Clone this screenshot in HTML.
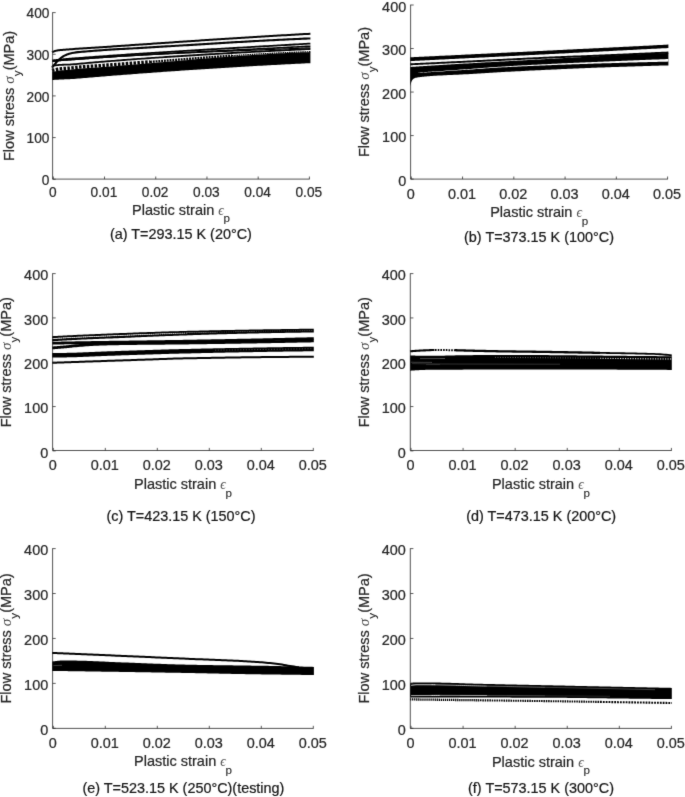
<!DOCTYPE html>
<html><head><meta charset="utf-8"><title>Flow stress vs plastic strain</title>
<style>
html,body{margin:0;padding:0;background:#fff;}
body{width:685px;height:797px;overflow:hidden;font-family:"Liberation Sans", sans-serif;}
svg{display:block;font-family:"Liberation Sans", sans-serif;will-change:transform;transform:translateZ(0);}
</style></head>
<body>
<svg width="685" height="797" viewBox="0 0 685 797">
<defs><filter id="soft" x="0" y="0" width="685" height="797" filterUnits="userSpaceOnUse" color-interpolation-filters="sRGB"><feConvolveMatrix order="3" kernelMatrix="0.015 0.07 0.015 0.07 0.66 0.07 0.015 0.07 0.015" edgeMode="duplicate" preserveAlpha="true"/></filter></defs>
<rect width="685" height="797" fill="#fff"/>
<g filter="url(#soft)">
<rect width="685" height="797" fill="#fff"/>
<g id="cv-a">
<path d="M52.0 72.10L52.5 71.97L53.0 71.85L53.5 71.73L54.0 71.62L54.5 71.51L55.0 71.40L55.5 71.29L56.0 71.18L56.5 71.08L57.0 70.98L57.5 70.89L58.0 70.80L58.5 70.71L59.0 70.64L59.5 70.57L60.0 70.51L60.5 70.45L61.0 70.40L61.5 70.35L62.0 70.30L62.5 70.26L63.0 70.22L63.5 70.18L64.0 70.14L64.5 70.11L65.0 70.07L65.5 70.04L66.0 70.00L66.5 69.97L67.0 69.93L67.5 69.90L68.0 69.86L68.5 69.82L69.0 69.78L69.5 69.74L70.0 69.70L70.5 69.65L71.0 69.60L71.5 69.55L72.0 69.50L74.0 69.27L76.0 69.04L78.0 68.82L80.0 68.63L82.0 68.47L84.0 68.32L86.0 68.17L88.0 68.04L90.0 67.90L92.0 67.77L94.0 67.64L96.0 67.52L98.0 67.39L100.0 67.25L102.0 67.11L104.0 66.96L106.0 66.80L108.0 66.64L110.0 66.49L112.0 66.33L114.0 66.17L116.0 66.01L118.0 65.85L120.0 65.69L122.0 65.53L124.0 65.37L126.0 65.21L128.0 65.04L130.0 64.88L132.0 64.71L134.0 64.55L136.0 64.38L138.0 64.21L140.0 64.04L142.0 63.88L144.0 63.71L146.0 63.54L148.0 63.37L150.0 63.20L152.0 63.03L154.0 62.86L156.0 62.69L158.0 62.52L160.0 62.35L162.0 62.17L164.0 62.00L166.0 61.83L168.0 61.66L170.0 61.49L172.0 61.32L174.0 61.15L176.0 60.98L178.0 60.81L180.0 60.64L182.0 60.47L184.0 60.30L186.0 60.13L188.0 59.96L190.0 59.79L192.0 59.62L194.0 59.46L196.0 59.29L198.0 59.12L200.0 58.96L202.0 58.79L204.0 58.63L206.0 58.47L208.0 58.30L210.0 58.14L212.0 57.98L214.0 57.82L216.0 57.66L218.0 57.51L220.0 57.35L222.0 57.19L224.0 57.04L226.0 56.89L228.0 56.73L230.0 56.58L232.0 56.43L234.0 56.29L236.0 56.14L238.0 56.00L240.0 55.85L242.0 55.71L244.0 55.57L246.0 55.43L248.0 55.29L250.0 55.16L252.0 55.02L254.0 54.89L256.0 54.76L258.0 54.63L260.0 54.50L262.0 54.38L264.0 54.26L266.0 54.14L268.0 54.02L270.0 53.90L272.0 53.79L274.0 53.67L276.0 53.56L278.0 53.45L280.0 53.35L282.0 53.25L284.0 53.14L286.0 53.05L288.0 52.95L290.0 52.86L292.0 52.76L294.0 52.68L296.0 52.59L298.0 52.51L300.0 52.42L302.0 52.35L304.0 52.27L306.0 52.20L308.0 52.13L310.0 52.06L310.4 52.05L310.4 63.15L310.0 63.17L308.0 63.26L306.0 63.36L304.0 63.46L302.0 63.56L300.0 63.65L298.0 63.75L296.0 63.85L294.0 63.95L292.0 64.06L290.0 64.16L288.0 64.26L286.0 64.36L284.0 64.47L282.0 64.57L280.0 64.68L278.0 64.78L276.0 64.89L274.0 65.00L272.0 65.10L270.0 65.21L268.0 65.32L266.0 65.43L264.0 65.54L262.0 65.65L260.0 65.76L258.0 65.87L256.0 65.99L254.0 66.10L252.0 66.21L250.0 66.33L248.0 66.44L246.0 66.56L244.0 66.68L242.0 66.79L240.0 66.91L238.0 67.03L236.0 67.15L234.0 67.27L232.0 67.39L230.0 67.51L228.0 67.63L226.0 67.75L224.0 67.88L222.0 68.00L220.0 68.13L218.0 68.25L216.0 68.38L214.0 68.50L212.0 68.63L210.0 68.76L208.0 68.88L206.0 69.01L204.0 69.14L202.0 69.27L200.0 69.40L198.0 69.53L196.0 69.67L194.0 69.80L192.0 69.93L190.0 70.07L188.0 70.20L186.0 70.33L184.0 70.47L182.0 70.61L180.0 70.74L178.0 70.88L176.0 71.02L174.0 71.16L172.0 71.30L170.0 71.44L168.0 71.58L166.0 71.72L164.0 71.86L162.0 72.01L160.0 72.15L158.0 72.29L156.0 72.44L154.0 72.58L152.0 72.73L150.0 72.88L148.0 73.02L146.0 73.17L144.0 73.32L142.0 73.47L140.0 73.62L138.0 73.77L136.0 73.92L134.0 74.07L132.0 74.22L130.0 74.38L128.0 74.53L126.0 74.69L124.0 74.84L122.0 75.00L120.0 75.15L118.0 75.31L116.0 75.47L114.0 75.62L112.0 75.78L110.0 75.94L108.0 76.10L106.0 76.26L104.0 76.42L102.0 76.59L100.0 76.75L98.0 76.91L96.0 77.08L94.0 77.24L92.0 77.40L90.0 77.57L88.0 77.74L86.0 77.92L84.0 78.10L82.0 78.27L80.0 78.43L78.0 78.59L76.0 78.74L74.0 78.89L72.0 79.02L71.5 79.05L71.0 79.08L70.5 79.11L70.0 79.14L69.5 79.16L69.0 79.19L68.5 79.21L68.0 79.23L67.5 79.25L67.0 79.27L66.5 79.29L66.0 79.31L65.5 79.33L65.0 79.35L64.5 79.37L64.0 79.39L63.5 79.41L63.0 79.43L62.5 79.45L62.0 79.47L61.5 79.49L61.0 79.51L60.5 79.54L60.0 79.56L59.5 79.58L59.0 79.61L58.5 79.63L58.0 79.66L57.5 79.69L57.0 79.71L56.5 79.74L56.0 79.77L55.5 79.79L55.0 79.82L54.5 79.85L54.0 79.88L53.5 79.91L53.0 79.94L52.5 79.97L52.0 80.00Z" fill="#000" stroke="none"/>
<path d="M52.0 70.50L52.5 70.37L53.0 70.25L53.5 70.13L54.0 70.02L54.5 69.91L55.0 69.80L55.5 69.69L56.0 69.58L56.5 69.48L57.0 69.38L57.5 69.29L58.0 69.20L58.5 69.12L59.0 69.04L59.5 68.97L60.0 68.91L60.5 68.85L61.0 68.80L61.5 68.75L62.0 68.70L62.5 68.66L63.0 68.62L63.5 68.58L64.0 68.54L64.5 68.50L65.0 68.47L65.5 68.43L66.0 68.40L66.5 68.37L67.0 68.33L67.5 68.29L68.0 68.26L68.5 68.22L69.0 68.18L69.5 68.14L70.0 68.09L70.5 68.04L71.0 67.99L71.5 67.94L72.0 67.89L74.0 67.66L76.0 67.43L78.0 67.21L80.0 67.01L82.0 66.85L84.0 66.70L86.0 66.56L88.0 66.43L90.0 66.29L92.0 66.16L94.0 66.04L96.0 65.92L98.0 65.80L100.0 65.67L102.0 65.53L104.0 65.38L106.0 65.23L108.0 65.08L110.0 64.94L112.0 64.79L114.0 64.64L116.0 64.49L118.0 64.34L120.0 64.18L122.0 64.03L124.0 63.88L126.0 63.73L128.0 63.57L130.0 63.42L132.0 63.27L134.0 63.11L136.0 62.96L138.0 62.80L140.0 62.64L142.0 62.49L144.0 62.33L146.0 62.18L148.0 62.02L150.0 61.86" fill="none" stroke="#000" stroke-width="3.4242898363919045" stroke-dasharray="2.5 1.4" stroke-linecap="butt" stroke-linejoin="round"/>
<path d="M150.0 61.86L150.5 61.82L151.0 61.78L151.5 61.74L152.0 61.71L152.5 61.67L153.0 61.63L153.5 61.59L154.0 61.55L154.5 61.51L155.0 61.47L155.5 61.43L156.0 61.39L156.5 61.35L157.0 61.31L157.5 61.27L158.0 61.23L158.5 61.20L159.0 61.16L159.5 61.12L160.0 61.08L160.5 61.04L161.0 61.00L161.5 60.96L162.0 60.92L162.5 60.88L163.0 60.84L163.5 60.80L164.0 60.76L164.5 60.73L165.0 60.69L165.5 60.65L166.0 60.61L166.5 60.57L167.0 60.53L167.5 60.49L168.0 60.45L168.5 60.41L169.0 60.37L169.5 60.33L170.0 60.29L172.0 60.14L174.0 59.98L176.0 59.83L178.0 59.67L180.0 59.52L182.0 59.36L184.0 59.21L186.0 59.05L188.0 58.90L190.0 58.75L192.0 58.60L194.0 58.45L196.0 58.29L198.0 58.14L200.0 57.99L202.0 57.85L204.0 57.70L206.0 57.55L208.0 57.40L210.0 57.26L212.0 57.11L214.0 56.97L216.0 56.82L218.0 56.68L220.0 56.54L222.0 56.40L224.0 56.26L226.0 56.12L228.0 55.99L230.0 55.85L232.0 55.72" fill="none" stroke="#000" stroke-width="2.3644514963083867" stroke-dasharray="1.9 0.9" stroke-linecap="butt" stroke-linejoin="round"/>
<path d="M232.0 55.72L232.5 55.68L233.0 55.65L233.5 55.62L234.0 55.58L234.5 55.55L235.0 55.52L235.5 55.48L236.0 55.45L236.5 55.42L237.0 55.38L237.5 55.35L238.0 55.32L238.5 55.29L239.0 55.25L239.5 55.22L240.0 55.19L240.5 55.16L241.0 55.12L241.5 55.09L242.0 55.06L242.5 55.03L243.0 55.00L243.5 54.97L244.0 54.93L244.5 54.90L245.0 54.87L245.5 54.84L246.0 54.81L246.5 54.78L247.0 54.75L247.5 54.71L248.0 54.68L248.5 54.65L249.0 54.62L249.5 54.59L250.0 54.56L250.5 54.53L251.0 54.50L251.5 54.47L252.0 54.44L254.0 54.32L256.0 54.20L258.0 54.09L260.0 53.97L262.0 53.86L264.0 53.75L266.0 53.64L268.0 53.53L270.0 53.42L272.0 53.32L274.0 53.21L276.0 53.11L278.0 53.01L280.0 52.92L282.0 52.82L284.0 52.73L286.0 52.64L288.0 52.55L290.0 52.46L292.0 52.38L294.0 52.30L296.0 52.22L298.0 52.14L300.0 52.06L302.0 51.99L304.0 51.92L306.0 51.85L308.0 51.78L310.0 51.72L310.4 51.71" fill="none" stroke="#000" stroke-width="1.280089051288066" stroke-dasharray="1.5 0.7" stroke-linecap="butt" stroke-linejoin="round"/>
<path d="M52.0 65.90L52.5 65.80L53.0 65.70L53.5 65.62L54.0 65.55L54.5 65.47L55.0 65.40L55.5 65.33L56.0 65.26L56.5 65.20L57.0 65.14L57.5 65.08L58.0 65.03L58.5 64.98L59.0 64.94L59.5 64.90L60.0 64.87L60.5 64.84L61.0 64.82L61.5 64.80L62.0 64.78L62.5 64.76L63.0 64.75L63.5 64.73L64.0 64.72L64.5 64.70L65.0 64.69L65.5 64.68L66.0 64.67L66.5 64.65L67.0 64.64L67.5 64.63L68.0 64.61L68.5 64.59L69.0 64.57L69.5 64.55L70.0 64.53L70.5 64.50L71.0 64.47L71.5 64.44L72.0 64.40L74.0 64.24L76.0 64.05L78.0 63.86L80.0 63.67L82.0 63.49L84.0 63.31L86.0 63.12L88.0 62.94L90.0 62.76L92.0 62.59L94.0 62.42L96.0 62.25L98.0 62.08L100.0 61.92L102.0 61.75L104.0 61.59L106.0 61.43L108.0 61.27L110.0 61.11L112.0 60.95L114.0 60.79L116.0 60.63L118.0 60.48L120.0 60.32L122.0 60.17L124.0 60.01L126.0 59.86L128.0 59.71L130.0 59.56L132.0 59.41L134.0 59.26L136.0 59.12L138.0 58.97L140.0 58.83L142.0 58.68L144.0 58.54L146.0 58.40L148.0 58.25L150.0 58.11L152.0 57.97L154.0 57.84L156.0 57.70L158.0 57.56L160.0 57.42L162.0 57.29L164.0 57.15L166.0 57.02L168.0 56.89L170.0 56.75L172.0 56.62L174.0 56.49L176.0 56.36L178.0 56.23L180.0 56.11L182.0 55.98L184.0 55.85L186.0 55.73L188.0 55.60L190.0 55.48L192.0 55.35L194.0 55.23L196.0 55.11L198.0 54.99L200.0 54.87L202.0 54.74L204.0 54.63L206.0 54.51L208.0 54.39L210.0 54.27L212.0 54.15L214.0 54.04L216.0 53.92L218.0 53.81L220.0 53.69L222.0 53.58L224.0 53.46L226.0 53.35L228.0 53.24L230.0 53.13L232.0 53.02L234.0 52.91L236.0 52.80L238.0 52.69L240.0 52.58L242.0 52.47L244.0 52.36L246.0 52.25L248.0 52.15L250.0 52.04L252.0 51.93L254.0 51.83L256.0 51.72L258.0 51.62L260.0 51.51L262.0 51.41L264.0 51.31L266.0 51.20L268.0 51.10L270.0 51.00L272.0 50.90L274.0 50.80L276.0 50.69L278.0 50.59L280.0 50.49L282.0 50.39L284.0 50.29L286.0 50.19L288.0 50.09L290.0 50.00L292.0 49.90L294.0 49.80L296.0 49.70L298.0 49.60L300.0 49.51L302.0 49.41L304.0 49.31L306.0 49.22L308.0 49.12L310.0 49.02L310.4 49.00" fill="none" stroke="#000" stroke-width="1.8" stroke-linecap="butt" stroke-linejoin="round"/>
<path d="M52.0 61.40L52.5 61.35L53.0 61.30L53.5 61.25L54.0 61.20L54.5 61.15L55.0 61.10L55.5 61.05L56.0 61.00L56.5 60.95L57.0 60.90L57.5 60.85L58.0 60.80L58.5 60.76L59.0 60.71L59.5 60.67L60.0 60.62L60.5 60.58L61.0 60.54L61.5 60.50L62.0 60.46L62.5 60.42L63.0 60.38L63.5 60.35L64.0 60.31L64.5 60.27L65.0 60.24L65.5 60.20L66.0 60.17L66.5 60.13L67.0 60.10L67.5 60.06L68.0 60.03L68.5 59.99L69.0 59.96L69.5 59.92L70.0 59.89L70.5 59.85L71.0 59.82L71.5 59.78L72.0 59.75L74.0 59.62L76.0 59.49L78.0 59.35L80.0 59.22L82.0 59.07L84.0 58.91L86.0 58.75L88.0 58.59L90.0 58.44L92.0 58.29L94.0 58.14L96.0 58.00L98.0 57.86L100.0 57.72L102.0 57.58L104.0 57.44L106.0 57.30L108.0 57.17L110.0 57.04L112.0 56.91L114.0 56.78L116.0 56.65L118.0 56.52L120.0 56.40L122.0 56.27L124.0 56.15L126.0 56.03L128.0 55.91L130.0 55.80L132.0 55.68L134.0 55.56L136.0 55.45L138.0 55.34L140.0 55.23L142.0 55.12L144.0 55.01L146.0 54.90L148.0 54.79L150.0 54.69L152.0 54.58L154.0 54.48L156.0 54.38L158.0 54.28L160.0 54.18L162.0 54.08L164.0 53.98L166.0 53.88L168.0 53.79L170.0 53.69L172.0 53.59L174.0 53.50L176.0 53.41L178.0 53.32L180.0 53.22L182.0 53.13L184.0 53.04L186.0 52.95L188.0 52.87L190.0 52.78L192.0 52.69L194.0 52.60L196.0 52.52L198.0 52.43L200.0 52.35L202.0 52.26L204.0 52.18L206.0 52.09L208.0 52.01L210.0 51.93L212.0 51.85L214.0 51.76L216.0 51.68L218.0 51.60L220.0 51.52L222.0 51.44L224.0 51.36L226.0 51.28L228.0 51.20L230.0 51.12L232.0 51.04L234.0 50.96L236.0 50.88L238.0 50.80L240.0 50.72L242.0 50.64L244.0 50.56L246.0 50.48L248.0 50.40L250.0 50.32L252.0 50.24L254.0 50.16L256.0 50.08L258.0 50.00L260.0 49.92L262.0 49.84L264.0 49.76L266.0 49.68L268.0 49.59L270.0 49.51L272.0 49.43L274.0 49.35L276.0 49.26L278.0 49.18L280.0 49.10L282.0 49.01L284.0 48.93L286.0 48.84L288.0 48.76L290.0 48.67L292.0 48.59L294.0 48.50L296.0 48.41L298.0 48.32L300.0 48.23L302.0 48.14L304.0 48.05L306.0 47.96L308.0 47.87L310.0 47.77L310.4 47.76" fill="none" stroke="#000" stroke-width="1.2" stroke-linecap="butt" stroke-linejoin="round"/>
<path d="M52.0 61.20L52.5 61.15L53.0 61.09L53.5 61.04L54.0 60.99L54.5 60.94L55.0 60.89L55.5 60.84L56.0 60.78L56.5 60.73L57.0 60.68L57.5 60.63L58.0 60.58L58.5 60.54L59.0 60.49L59.5 60.44L60.0 60.40L60.5 60.35L61.0 60.31L61.5 60.27L62.0 60.23L62.5 60.19L63.0 60.15L63.5 60.11L64.0 60.07L64.5 60.03L65.0 59.99L65.5 59.95L66.0 59.91L66.5 59.88L67.0 59.84L67.5 59.80L68.0 59.77L68.5 59.73L69.0 59.69L69.5 59.66L70.0 59.62L70.5 59.59L71.0 59.55L71.5 59.52L72.0 59.49L74.0 59.36L76.0 59.23L78.0 59.10L80.0 58.97L82.0 58.82L84.0 58.67L86.0 58.52L88.0 58.37L90.0 58.22L92.0 58.07L94.0 57.93L96.0 57.79L98.0 57.65L100.0 57.51L102.0 57.37L104.0 57.24L106.0 57.10L108.0 56.97L110.0 56.84L112.0 56.70L114.0 56.57L116.0 56.44L118.0 56.31L120.0 56.19L122.0 56.06L124.0 55.94L126.0 55.81L128.0 55.69L130.0 55.57L132.0 55.44L134.0 55.32L136.0 55.20L138.0 55.09L140.0 54.97L142.0 54.85L144.0 54.74L146.0 54.62L148.0 54.51L150.0 54.39L152.0 54.28L154.0 54.17L156.0 54.06L158.0 53.95L160.0 53.84L162.0 53.73L164.0 53.62L166.0 53.51L168.0 53.40L170.0 53.30L172.0 53.19L174.0 53.08L176.0 52.98L178.0 52.88L180.0 52.77L182.0 52.67L184.0 52.56L186.0 52.46L188.0 52.36L190.0 52.26L192.0 52.16L194.0 52.06L196.0 51.95L198.0 51.85L200.0 51.75L202.0 51.65L204.0 51.55L206.0 51.46L208.0 51.36L210.0 51.26L212.0 51.16L214.0 51.06L216.0 50.96L218.0 50.86L220.0 50.77L222.0 50.67L224.0 50.57L226.0 50.47L228.0 50.38L230.0 50.28L232.0 50.18L234.0 50.08L236.0 49.99L238.0 49.89L240.0 49.79L242.0 49.69L244.0 49.59L246.0 49.50L248.0 49.40L250.0 49.30L252.0 49.20L254.0 49.10L256.0 49.00L258.0 48.90L260.0 48.80L262.0 48.70L264.0 48.60L266.0 48.50L268.0 48.40L270.0 48.30L272.0 48.20L274.0 48.10L276.0 48.00L278.0 47.89L280.0 47.79L282.0 47.69L284.0 47.58L286.0 47.48L288.0 47.37L290.0 47.27L292.0 47.16L294.0 47.06L296.0 46.95L298.0 46.84L300.0 46.73L302.0 46.62L304.0 46.51L306.0 46.40L308.0 46.29L310.0 46.18L310.4 46.16" fill="none" stroke="#000" stroke-width="1.6" stroke-linecap="butt" stroke-linejoin="round"/>
<path d="M52.0 60.50L52.5 60.44L53.0 60.38L53.5 60.32L54.0 60.26L54.5 60.20L55.0 60.14L55.5 60.08L56.0 60.02L56.5 59.96L57.0 59.90L57.5 59.85L58.0 59.79L58.5 59.74L59.0 59.68L59.5 59.63L60.0 59.58L60.5 59.52L61.0 59.47L61.5 59.42L62.0 59.37L62.5 59.32L63.0 59.28L63.5 59.23L64.0 59.18L64.5 59.13L65.0 59.09L65.5 59.04L66.0 59.00L66.5 58.95L67.0 58.91L67.5 58.86L68.0 58.82L68.5 58.78L69.0 58.74L69.5 58.70L70.0 58.66L70.5 58.62L71.0 58.58L71.5 58.54L72.0 58.51L74.0 58.37L76.0 58.24L78.0 58.11L80.0 57.97L82.0 57.82L84.0 57.67L86.0 57.52L88.0 57.37L90.0 57.22L92.0 57.07L94.0 56.92L96.0 56.77L98.0 56.62L100.0 56.48L102.0 56.33L104.0 56.19L106.0 56.04L108.0 55.90L110.0 55.76L112.0 55.62L114.0 55.48L116.0 55.34L118.0 55.20L120.0 55.06L122.0 54.92L124.0 54.78L126.0 54.65L128.0 54.51L130.0 54.37L132.0 54.24L134.0 54.11L136.0 53.97L138.0 53.84L140.0 53.71L142.0 53.58L144.0 53.45L146.0 53.32L148.0 53.19L150.0 53.06L152.0 52.93L154.0 52.80L156.0 52.67L158.0 52.55L160.0 52.42L162.0 52.29L164.0 52.17L166.0 52.04L168.0 51.92L170.0 51.79L172.0 51.67L174.0 51.55L176.0 51.42L178.0 51.30L180.0 51.18L182.0 51.06L184.0 50.94L186.0 50.81L188.0 50.69L190.0 50.57L192.0 50.45L194.0 50.33L196.0 50.21L198.0 50.10L200.0 49.98L202.0 49.86L204.0 49.74L206.0 49.62L208.0 49.50L210.0 49.39L212.0 49.27L214.0 49.15L216.0 49.04L218.0 48.92L220.0 48.80L222.0 48.69L224.0 48.57L226.0 48.45L228.0 48.34L230.0 48.22L232.0 48.11L234.0 47.99L236.0 47.88L238.0 47.76L240.0 47.65L242.0 47.53L244.0 47.42L246.0 47.30L248.0 47.19L250.0 47.07L252.0 46.95L254.0 46.84L256.0 46.72L258.0 46.61L260.0 46.49L262.0 46.38L264.0 46.26L266.0 46.15L268.0 46.03L270.0 45.92L272.0 45.80L274.0 45.69L276.0 45.57L278.0 45.46L280.0 45.34L282.0 45.22L284.0 45.11L286.0 44.99L288.0 44.87L290.0 44.76L292.0 44.64L294.0 44.52L296.0 44.41L298.0 44.29L300.0 44.17L302.0 44.05L304.0 43.93L306.0 43.81L308.0 43.70L310.0 43.58L310.4 43.55" fill="none" stroke="#000" stroke-width="1.8" stroke-linecap="butt" stroke-linejoin="round"/>
<path d="M52.0 67.60L52.5 66.98L53.0 66.37L53.5 65.76L54.0 65.15L54.5 64.55L55.0 63.95L55.5 63.35L56.0 62.75L56.5 62.17L57.0 61.63L57.5 61.11L58.0 60.62L58.5 60.13L59.0 59.65L59.5 59.17L60.0 58.71L60.5 58.28L61.0 57.88L61.5 57.50L62.0 57.15L62.5 56.82L63.0 56.50L63.5 56.20L64.0 55.91L64.5 55.64L65.0 55.39L65.5 55.16L66.0 54.95L66.5 54.74L67.0 54.54L67.5 54.34L68.0 54.16L68.5 53.98L69.0 53.82L69.5 53.66L70.0 53.53L70.5 53.40L71.0 53.27L71.5 53.15L72.0 53.04L74.0 52.67L76.0 52.39L78.0 52.16L80.0 51.95L82.0 51.77L84.0 51.59L86.0 51.43L88.0 51.28L90.0 51.12L92.0 50.97L94.0 50.81L96.0 50.65L98.0 50.50L100.0 50.34L102.0 50.19L104.0 50.04L106.0 49.89L108.0 49.75L110.0 49.62L112.0 49.50L114.0 49.39L116.0 49.28L118.0 49.17L120.0 49.07L122.0 48.96L124.0 48.86L126.0 48.75L128.0 48.65L130.0 48.54L132.0 48.43L134.0 48.32L136.0 48.20L138.0 48.09L140.0 47.97L142.0 47.85L144.0 47.74L146.0 47.62L148.0 47.50L150.0 47.38L152.0 47.26L154.0 47.15L156.0 47.03L158.0 46.91L160.0 46.79L162.0 46.67L164.0 46.54L166.0 46.42L168.0 46.30L170.0 46.18L172.0 46.06L174.0 45.94L176.0 45.81L178.0 45.69L180.0 45.57L182.0 45.45L184.0 45.32L186.0 45.20L188.0 45.08L190.0 44.95L192.0 44.83L194.0 44.71L196.0 44.59L198.0 44.46L200.0 44.34L202.0 44.22L204.0 44.09L206.0 43.97L208.0 43.85L210.0 43.73L212.0 43.61L214.0 43.49L216.0 43.36L218.0 43.24L220.0 43.12L222.0 43.00L224.0 42.88L226.0 42.76L228.0 42.65L230.0 42.53L232.0 42.41L234.0 42.29L236.0 42.17L238.0 42.06L240.0 41.94L242.0 41.83L244.0 41.71L246.0 41.60L248.0 41.49L250.0 41.37L252.0 41.26L254.0 41.15L256.0 41.04L258.0 40.93L260.0 40.82L262.0 40.71L264.0 40.61L266.0 40.50L268.0 40.39L270.0 40.29L272.0 40.19L274.0 40.08L276.0 39.98L278.0 39.88L280.0 39.78L282.0 39.68L284.0 39.58L286.0 39.49L288.0 39.39L290.0 39.30L292.0 39.21L294.0 39.11L296.0 39.02L298.0 38.93L300.0 38.85L302.0 38.76L304.0 38.67L306.0 38.59L308.0 38.51L310.0 38.43L310.4 38.41" fill="none" stroke="#000" stroke-width="2.1" stroke-linecap="butt" stroke-linejoin="round"/>
<path d="M52.0 52.20L52.5 51.97L53.0 51.76L53.5 51.57L54.0 51.38L54.5 51.21L55.0 51.05L55.5 50.90L56.0 50.74L56.5 50.61L57.0 50.51L57.5 50.43L58.0 50.35L58.5 50.29L59.0 50.23L59.5 50.17L60.0 50.12L60.5 50.08L61.0 50.03L61.5 49.98L62.0 49.94L62.5 49.89L63.0 49.85L63.5 49.81L64.0 49.77L64.5 49.73L65.0 49.69L65.5 49.65L66.0 49.61L66.5 49.58L67.0 49.54L67.5 49.51L68.0 49.47L68.5 49.43L69.0 49.39L69.5 49.36L70.0 49.32L70.5 49.27L71.0 49.23L71.5 49.19L72.0 49.14L74.0 48.97L76.0 48.82L78.0 48.68L80.0 48.55L82.0 48.42L84.0 48.29L86.0 48.17L88.0 48.05L90.0 47.94L92.0 47.82L94.0 47.71L96.0 47.59L98.0 47.46L100.0 47.33L102.0 47.20L104.0 47.07L106.0 46.93L108.0 46.79L110.0 46.65L112.0 46.51L114.0 46.36L116.0 46.22L118.0 46.08L120.0 45.94L122.0 45.81L124.0 45.67L126.0 45.53L128.0 45.39L130.0 45.26L132.0 45.12L134.0 44.98L136.0 44.84L138.0 44.70L140.0 44.57L142.0 44.43L144.0 44.29L146.0 44.15L148.0 44.01L150.0 43.88L152.0 43.74L154.0 43.60L156.0 43.47L158.0 43.33L160.0 43.19L162.0 43.06L164.0 42.92L166.0 42.78L168.0 42.65L170.0 42.51L172.0 42.38L174.0 42.24L176.0 42.10L178.0 41.97L180.0 41.83L182.0 41.70L184.0 41.56L186.0 41.43L188.0 41.30L190.0 41.16L192.0 41.03L194.0 40.89L196.0 40.76L198.0 40.63L200.0 40.50L202.0 40.36L204.0 40.23L206.0 40.10L208.0 39.97L210.0 39.84L212.0 39.71L214.0 39.58L216.0 39.45L218.0 39.32L220.0 39.19L222.0 39.06L224.0 38.93L226.0 38.80L228.0 38.67L230.0 38.54L232.0 38.41L234.0 38.29L236.0 38.16L238.0 38.03L240.0 37.91L242.0 37.78L244.0 37.66L246.0 37.53L248.0 37.41L250.0 37.28L252.0 37.16L254.0 37.04L256.0 36.92L258.0 36.79L260.0 36.67L262.0 36.55L264.0 36.43L266.0 36.31L268.0 36.19L270.0 36.07L272.0 35.95L274.0 35.83L276.0 35.72L278.0 35.60L280.0 35.48L282.0 35.37L284.0 35.25L286.0 35.13L288.0 35.02L290.0 34.91L292.0 34.79L294.0 34.68L296.0 34.57L298.0 34.46L300.0 34.34L302.0 34.23L304.0 34.12L306.0 34.01L308.0 33.91L310.0 33.80L310.4 33.78" fill="none" stroke="#000" stroke-width="2.0" stroke-linecap="butt" stroke-linejoin="round"/>
</g>
<g id="ax-a">
<path d="M52.599999999999994 12.299999999999999V179.1H309.7" fill="none" stroke="#262626" stroke-width="0.8"/>
<path d="M53.30 179.1v-2.6M104.52 179.1v-2.6M155.74 179.1v-2.6M206.96 179.1v-2.6M258.18 179.1v-2.6M309.40 179.1v-2.6M52.599999999999994 179.25h3.1M52.599999999999994 137.59h3.1M52.599999999999994 95.92h3.1M52.599999999999994 54.26h3.1M52.599999999999994 12.60h3.1" fill="none" stroke="#262626" stroke-width="0.75"/>
<g font-size="13.7" fill="#262626" stroke="#262626" stroke-width="0.22">
<text transform="translate(52.70 196.80) scale(1 1.055)" text-anchor="middle">0</text>
<text transform="translate(103.92 196.80) scale(1 1.055)" text-anchor="middle">0.01</text>
<text transform="translate(155.14 196.80) scale(1 1.055)" text-anchor="middle">0.02</text>
<text transform="translate(206.36 196.80) scale(1 1.055)" text-anchor="middle">0.03</text>
<text transform="translate(257.58 196.80) scale(1 1.055)" text-anchor="middle">0.04</text>
<text transform="translate(308.80 196.80) scale(1 1.055)" text-anchor="middle">0.05</text>
<text transform="translate(49.40 184.96) scale(1 1.055)" text-anchor="end">0</text>
<text transform="translate(49.40 143.30) scale(1 1.055)" text-anchor="end">100</text>
<text transform="translate(49.40 101.63) scale(1 1.055)" text-anchor="end">200</text>
<text transform="translate(49.40 59.97) scale(1 1.055)" text-anchor="end">300</text>
<text transform="translate(49.40 18.31) scale(1 1.055)" text-anchor="end">400</text>
</g>
<text x="181.05" y="214.50" text-anchor="middle" font-size="14.5" fill="#262626" stroke="#262626" stroke-width="0.22">Plastic strain <tspan font-family="Liberation Serif" font-style="italic" font-size="13.77" fill="#555" stroke="none">ϵ</tspan><tspan dx="-0.3" dy="7.76" font-size="11.60" stroke-width="0.1">p</tspan></text>
<text transform="translate(13.90 95.92) rotate(-90)" text-anchor="middle" font-size="14.5" fill="#262626" stroke="#262626" stroke-width="0.22">Flow stress <tspan font-family="Liberation Serif" font-style="italic" font-size="15.23" fill="#444" stroke="none">σ</tspan><tspan dy="6.96" font-size="11.60" stroke-width="0.1">y</tspan><tspan dy="-6.96">(MPa)</tspan></text>
<text x="180.9" y="239.0" text-anchor="middle" font-size="14.4" fill="#161616" stroke="#161616" stroke-width="0.22">(a) T=293.15 K (20°C)</text>
</g>
<g id="cv-b">
<path d="M410.0 57.30L410.5 57.28L411.0 57.25L411.5 57.23L412.0 57.20L412.5 57.18L413.0 57.16L413.5 57.13L414.0 57.11L414.5 57.08L415.0 57.06L415.5 57.04L416.0 57.01L416.5 56.99L417.0 56.97L417.5 56.94L418.0 56.92L418.5 56.89L419.0 56.87L419.5 56.85L420.0 56.82L420.5 56.80L421.0 56.77L421.5 56.75L422.0 56.73L422.5 56.70L423.0 56.68L423.5 56.65L424.0 56.63L424.5 56.61L425.0 56.58L425.5 56.56L426.0 56.53L426.5 56.51L427.0 56.49L427.5 56.46L428.0 56.44L428.5 56.41L429.0 56.39L429.5 56.37L430.0 56.34L432.0 56.25L434.0 56.15L436.0 56.05L438.0 55.96L440.0 55.86L442.0 55.77L444.0 55.67L446.0 55.57L448.0 55.48L450.0 55.38L452.0 55.28L454.0 55.19L456.0 55.09L458.0 54.99L460.0 54.90L462.0 54.80L464.0 54.70L466.0 54.61L468.0 54.51L470.0 54.41L472.0 54.32L474.0 54.22L476.0 54.12L478.0 54.03L480.0 53.93L482.0 53.83L484.0 53.74L486.0 53.64L488.0 53.54L490.0 53.44L492.0 53.35L494.0 53.25L496.0 53.15L498.0 53.05L500.0 52.96L502.0 52.86L504.0 52.76L506.0 52.66L508.0 52.57L510.0 52.47L512.0 52.37L514.0 52.27L516.0 52.18L518.0 52.08L520.0 51.98L522.0 51.88L524.0 51.78L526.0 51.69L528.0 51.59L530.0 51.49L532.0 51.39L534.0 51.29L536.0 51.20L538.0 51.10L540.0 51.00L542.0 50.90L544.0 50.80L546.0 50.70L548.0 50.61L550.0 50.51L552.0 50.41L554.0 50.31L556.0 50.21L558.0 50.11L560.0 50.01L562.0 49.92L564.0 49.82L566.0 49.72L568.0 49.62L570.0 49.52L572.0 49.42L574.0 49.32L576.0 49.22L578.0 49.12L580.0 49.03L582.0 48.93L584.0 48.83L586.0 48.73L588.0 48.63L590.0 48.53L592.0 48.43L594.0 48.33L596.0 48.23L598.0 48.13L600.0 48.03L602.0 47.93L604.0 47.83L606.0 47.73L608.0 47.63L610.0 47.53L612.0 47.43L614.0 47.33L616.0 47.23L618.0 47.13L620.0 47.03L622.0 46.93L624.0 46.83L626.0 46.73L628.0 46.63L630.0 46.53L632.0 46.43L634.0 46.33L636.0 46.23L638.0 46.13L640.0 46.03L642.0 45.93L644.0 45.83L646.0 45.73L648.0 45.63L650.0 45.53L652.0 45.43L654.0 45.33L656.0 45.23L658.0 45.12L660.0 45.02L662.0 44.92L664.0 44.82L666.0 44.72L668.0 44.62L668.4 44.60L668.4 48.00L668.0 48.02L666.0 48.13L664.0 48.23L662.0 48.33L660.0 48.44L658.0 48.54L656.0 48.65L654.0 48.75L652.0 48.85L650.0 48.96L648.0 49.06L646.0 49.16L644.0 49.27L642.0 49.37L640.0 49.48L638.0 49.58L636.0 49.68L634.0 49.79L632.0 49.89L630.0 49.99L628.0 50.10L626.0 50.20L624.0 50.30L622.0 50.41L620.0 50.51L618.0 50.61L616.0 50.72L614.0 50.82L612.0 50.92L610.0 51.02L608.0 51.13L606.0 51.23L604.0 51.33L602.0 51.44L600.0 51.54L598.0 51.64L596.0 51.74L594.0 51.85L592.0 51.95L590.0 52.05L588.0 52.15L586.0 52.26L584.0 52.36L582.0 52.46L580.0 52.56L578.0 52.67L576.0 52.77L574.0 52.87L572.0 52.97L570.0 53.07L568.0 53.18L566.0 53.28L564.0 53.38L562.0 53.48L560.0 53.58L558.0 53.69L556.0 53.79L554.0 53.89L552.0 53.99L550.0 54.09L548.0 54.19L546.0 54.30L544.0 54.40L542.0 54.50L540.0 54.60L538.0 54.70L536.0 54.80L534.0 54.90L532.0 55.01L530.0 55.11L528.0 55.21L526.0 55.31L524.0 55.41L522.0 55.51L520.0 55.61L518.0 55.71L516.0 55.81L514.0 55.91L512.0 56.02L510.0 56.12L508.0 56.22L506.0 56.32L504.0 56.42L502.0 56.52L500.0 56.62L498.0 56.72L496.0 56.82L494.0 56.92L492.0 57.02L490.0 57.12L488.0 57.22L486.0 57.32L484.0 57.42L482.0 57.52L480.0 57.62L478.0 57.72L476.0 57.82L474.0 57.92L472.0 58.02L470.0 58.12L468.0 58.22L466.0 58.32L464.0 58.42L462.0 58.52L460.0 58.62L458.0 58.72L456.0 58.82L454.0 58.92L452.0 59.02L450.0 59.12L448.0 59.22L446.0 59.32L444.0 59.42L442.0 59.52L440.0 59.62L438.0 59.72L436.0 59.81L434.0 59.91L432.0 60.01L430.0 60.11L429.5 60.14L429.0 60.16L428.5 60.19L428.0 60.21L427.5 60.24L427.0 60.26L426.5 60.29L426.0 60.31L425.5 60.33L425.0 60.36L424.5 60.38L424.0 60.41L423.5 60.43L423.0 60.46L422.5 60.48L422.0 60.51L421.5 60.53L421.0 60.56L420.5 60.58L420.0 60.61L419.5 60.63L419.0 60.66L418.5 60.68L418.0 60.71L417.5 60.73L417.0 60.75L416.5 60.78L416.0 60.80L415.5 60.83L415.0 60.85L414.5 60.88L414.0 60.90L413.5 60.93L413.0 60.95L412.5 60.98L412.0 61.00L411.5 61.03L411.0 61.05L410.5 61.08L410.0 61.10Z" fill="#000" stroke="none"/>
<path d="M410.0 64.30L410.5 64.28L411.0 64.25L411.5 64.23L412.0 64.21L412.5 64.18L413.0 64.16L413.5 64.14L414.0 64.11L414.5 64.09L415.0 64.07L415.5 64.04L416.0 64.02L416.5 64.00L417.0 63.97L417.5 63.95L418.0 63.93L418.5 63.90L419.0 63.88L419.5 63.86L420.0 63.83L420.5 63.81L421.0 63.79L421.5 63.76L422.0 63.74L422.5 63.72L423.0 63.69L423.5 63.67L424.0 63.65L424.5 63.62L425.0 63.60L425.5 63.58L426.0 63.55L426.5 63.53L427.0 63.51L427.5 63.48L428.0 63.46L428.5 63.44L429.0 63.41L429.5 63.39L430.0 63.37L432.0 63.27L434.0 63.18L436.0 63.08L438.0 62.99L440.0 62.89L442.0 62.80L444.0 62.70L446.0 62.61L448.0 62.51L450.0 62.42L452.0 62.32L454.0 62.23L456.0 62.13L458.0 62.04L460.0 61.94L462.0 61.84L464.0 61.75L466.0 61.65L468.0 61.55L470.0 61.46L472.0 61.36L474.0 61.26L476.0 61.16L478.0 61.06L480.0 60.96L482.0 60.86L484.0 60.76L486.0 60.66L488.0 60.56L490.0 60.45L492.0 60.35L494.0 60.25L496.0 60.15L498.0 60.05L500.0 59.95L502.0 59.84L504.0 59.74L506.0 59.64L508.0 59.54L510.0 59.44L512.0 59.34L514.0 59.24L516.0 59.14L518.0 59.04L520.0 58.94L522.0 58.85L524.0 58.75L526.0 58.65L528.0 58.56L530.0 58.46L532.0 58.37L534.0 58.27L536.0 58.18L538.0 58.09L540.0 58.00L542.0 57.91L544.0 57.82L546.0 57.73L548.0 57.65L550.0 57.56L552.0 57.48L554.0 57.39L556.0 57.31L558.0 57.22L560.0 57.14L562.0 57.06L564.0 56.98L566.0 56.90L568.0 56.81L570.0 56.73L572.0 56.65L574.0 56.57L576.0 56.49L578.0 56.41L580.0 56.33L582.0 56.25L584.0 56.17L586.0 56.09L588.0 56.01L590.0 55.93L592.0 55.85L594.0 55.77L596.0 55.69L598.0 55.61L600.0 55.53L602.0 55.45L604.0 55.36L606.0 55.28L608.0 55.20L610.0 55.11L612.0 55.03L614.0 54.94L616.0 54.86L618.0 54.77L620.0 54.68L622.0 54.60L624.0 54.51L626.0 54.42L628.0 54.33L630.0 54.24L632.0 54.16L634.0 54.07L636.0 53.98L638.0 53.89L640.0 53.80L642.0 53.71L644.0 53.62L646.0 53.53L648.0 53.44L650.0 53.35L652.0 53.26L654.0 53.16L656.0 53.07L658.0 52.98L660.0 52.89L662.0 52.80L664.0 52.70L666.0 52.61L668.0 52.52L668.4 52.50" fill="none" stroke="#000" stroke-width="1.9" stroke-linecap="butt" stroke-linejoin="round"/>
<path d="M410.0 67.00L410.5 66.97L411.0 66.93L411.5 66.90L412.0 66.87L412.5 66.83L413.0 66.80L413.5 66.77L414.0 66.73L414.5 66.70L415.0 66.67L415.5 66.63L416.0 66.60L416.5 66.57L417.0 66.53L417.5 66.50L418.0 66.47L418.5 66.44L419.0 66.40L419.5 66.37L420.0 66.34L420.5 66.31L421.0 66.27L421.5 66.24L422.0 66.21L422.5 66.18L423.0 66.14L423.5 66.11L424.0 66.08L424.5 66.05L425.0 66.01L425.5 65.98L426.0 65.95L426.5 65.92L427.0 65.88L427.5 65.85L428.0 65.82L428.5 65.79L429.0 65.76L429.5 65.72L430.0 65.69L432.0 65.57L434.0 65.44L436.0 65.31L438.0 65.19L440.0 65.06L442.0 64.94L444.0 64.81L446.0 64.69L448.0 64.57L450.0 64.45L452.0 64.33L454.0 64.20L456.0 64.08L458.0 63.96L460.0 63.85L462.0 63.73L464.0 63.61L466.0 63.49L468.0 63.38L470.0 63.26L472.0 63.15L474.0 63.03L476.0 62.92L478.0 62.81L480.0 62.70L482.0 62.59L484.0 62.48L486.0 62.37L488.0 62.26L490.0 62.15L492.0 62.04L494.0 61.93L496.0 61.82L498.0 61.71L500.0 61.60L502.0 61.49L504.0 61.38L506.0 61.27L508.0 61.16L510.0 61.05L512.0 60.94L514.0 60.83L516.0 60.72L518.0 60.61L520.0 60.50L522.0 60.39L524.0 60.28L526.0 60.17L528.0 60.06L530.0 59.95L532.0 59.84L534.0 59.73L536.0 59.62L538.0 59.51L540.0 59.40L542.0 59.29L544.0 59.18L546.0 59.07L548.0 58.96L550.0 58.85L552.0 58.74L554.0 58.63L556.0 58.52L558.0 58.41L560.0 58.30L562.0 58.19L564.0 58.08L566.0 57.97L568.0 57.86L570.0 57.74L572.0 57.63L574.0 57.52L576.0 57.40L578.0 57.29L580.0 57.18L582.0 57.06L584.0 56.95L586.0 56.84L588.0 56.73L590.0 56.61L592.0 56.50L594.0 56.39L596.0 56.28L598.0 56.17L600.0 56.07L602.0 55.96L604.0 55.85L606.0 55.75L608.0 55.65L610.0 55.55L612.0 55.45L614.0 55.35L616.0 55.25L618.0 55.16L620.0 55.06L622.0 54.97L624.0 54.87L626.0 54.78L628.0 54.69L630.0 54.60L632.0 54.51L634.0 54.42L636.0 54.33L638.0 54.24L640.0 54.15L642.0 54.07L644.0 53.98L646.0 53.89L648.0 53.81L650.0 53.73L652.0 53.64L654.0 53.56L656.0 53.48L658.0 53.40L660.0 53.32L662.0 53.24L664.0 53.17L666.0 53.09L668.0 53.01L668.4 53.00L668.4 65.40L668.0 65.41L666.0 65.46L664.0 65.51L662.0 65.56L660.0 65.62L658.0 65.67L656.0 65.73L654.0 65.78L652.0 65.84L650.0 65.89L648.0 65.95L646.0 66.01L644.0 66.07L642.0 66.13L640.0 66.19L638.0 66.25L636.0 66.31L634.0 66.38L632.0 66.44L630.0 66.50L628.0 66.57L626.0 66.63L624.0 66.70L622.0 66.76L620.0 66.83L618.0 66.90L616.0 66.97L614.0 67.03L612.0 67.10L610.0 67.17L608.0 67.25L606.0 67.32L604.0 67.39L602.0 67.47L600.0 67.54L598.0 67.62L596.0 67.69L594.0 67.77L592.0 67.85L590.0 67.93L588.0 68.01L586.0 68.09L584.0 68.17L582.0 68.25L580.0 68.34L578.0 68.42L576.0 68.51L574.0 68.59L572.0 68.68L570.0 68.76L568.0 68.85L566.0 68.94L564.0 69.02L562.0 69.11L560.0 69.20L558.0 69.29L556.0 69.38L554.0 69.47L552.0 69.56L550.0 69.65L548.0 69.75L546.0 69.84L544.0 69.94L542.0 70.03L540.0 70.13L538.0 70.22L536.0 70.32L534.0 70.42L532.0 70.52L530.0 70.62L528.0 70.72L526.0 70.82L524.0 70.92L522.0 71.03L520.0 71.13L518.0 71.23L516.0 71.34L514.0 71.44L512.0 71.55L510.0 71.66L508.0 71.76L506.0 71.87L504.0 71.98L502.0 72.09L500.0 72.20L498.0 72.31L496.0 72.43L494.0 72.54L492.0 72.66L490.0 72.78L488.0 72.91L486.0 73.03L484.0 73.15L482.0 73.28L480.0 73.40L478.0 73.53L476.0 73.65L474.0 73.77L472.0 73.90L470.0 74.01L468.0 74.13L466.0 74.24L464.0 74.35L462.0 74.46L460.0 74.56L458.0 74.66L456.0 74.75L454.0 74.84L452.0 74.93L450.0 75.02L448.0 75.12L446.0 75.21L444.0 75.31L442.0 75.40L440.0 75.51L438.0 75.62L436.0 75.73L434.0 75.85L432.0 75.98L430.0 76.12L429.5 76.16L429.0 76.19L428.5 76.23L428.0 76.27L427.5 76.31L427.0 76.36L426.5 76.40L426.0 76.44L425.5 76.49L425.0 76.54L424.5 76.58L424.0 76.63L423.5 76.69L423.0 76.74L422.5 76.80L422.0 76.85L421.5 76.91L421.0 76.97L420.5 77.03L420.0 77.09L419.5 77.15L419.0 77.21L418.5 77.28L418.0 77.35L417.5 77.44L417.0 77.53L416.5 77.63L416.0 77.74L415.5 77.86L415.0 78.00L414.5 78.19L414.0 78.46L413.5 78.80L413.0 79.20L412.5 79.74L412.0 80.47L411.5 81.42L411.0 82.88L410.5 84.41L410.0 86.00Z" fill="#000" stroke="none"/>
<path d="M418.5 72.50L419.0 72.47L419.5 72.43L420.0 72.40L420.5 72.37L421.0 72.34L421.5 72.30L422.0 72.27L422.5 72.24L423.0 72.20L423.5 72.17L424.0 72.14L424.5 72.10L425.0 72.07L425.5 72.04L426.0 72.00L426.5 71.97L427.0 71.94L427.5 71.90L428.0 71.87L428.5 71.84L429.0 71.80L429.5 71.77L430.0 71.73L430.5 71.70L431.0 71.67L431.5 71.63L432.0 71.60L432.5 71.57L433.0 71.53L433.5 71.50L434.0 71.46L434.5 71.43L435.0 71.40L435.5 71.36L436.0 71.33L436.5 71.29L437.0 71.26L437.5 71.23L438.0 71.19L438.5 71.16L440.5 71.02L442.5 70.88L444.5 70.74L446.5 70.61L448.5 70.47L450.5 70.33L452.5 70.19L454.5 70.05L456.5 69.90L458.5 69.76L460.5 69.62L462.5 69.48L464.5 69.34L466.5 69.19L468.5 69.04L470.5 68.89L472.5 68.74L474.5 68.59L476.5 68.43L478.5 68.28L480.5 68.12L482.5 67.97L484.5 67.81L486.5 67.66L488.5 67.51L490.5 67.36L492.5 67.21L494.5 67.07L496.5 66.93L498.5 66.80L500.5 66.67L502.5 66.54L504.5 66.42L506.5 66.29L508.5 66.17L510.5 66.05L512.5 65.94L514.5 65.82L516.5 65.71L518.5 65.59L520.5 65.48L522.5 65.37L524.5 65.26L526.5 65.15L528.5 65.05L530.5 64.94L532.5 64.83L534.5 64.73L536.5 64.63L538.5 64.53L540.5 64.42L542.5 64.32L544.5 64.22L546.5 64.13L548.5 64.03L550.5 63.93L552.5 63.84L554.5 63.74L556.5 63.65L558.5 63.55L560.5 63.46L562.5 63.37L564.5 63.28L566.5 63.19L568.5 63.10L570.5 63.01L572.5 62.92L574.5 62.84L576.5 62.75L578.5 62.66L580.5 62.58L582.5 62.49L584.5 62.41L586.5 62.32L588.5 62.24L590.5 62.15L592.5 62.07L594.5 61.98L596.5 61.90L598.5 61.81L600.5 61.73L602.5 61.64L604.5 61.56L606.5 61.48L608.5 61.39L610.5 61.31L612.5 61.23L614.5 61.14L616.5 61.06L618.5 60.98L620.5 60.89L622.5 60.81L624.5 60.73L626.5 60.65L628.5 60.57L630.5 60.49L632.5 60.40L634.5 60.32L636.5 60.24L638.5 60.16L640.5 60.08L642.5 60.00L644.5 59.92L646.5 59.85L648.5 59.77L650.5 59.69L652.5 59.61L654.5 59.53L656.5 59.46L658.5 59.38L660.5 59.30L662.5 59.22L664.5 59.15L666.5 59.07L668.4 59.00L668.4 61.60L666.5 61.64L664.5 61.69L662.5 61.73L660.5 61.78L658.5 61.83L656.5 61.88L654.5 61.93L652.5 61.98L650.5 62.03L648.5 62.08L646.5 62.13L644.5 62.18L642.5 62.23L640.5 62.28L638.5 62.34L636.5 62.39L634.5 62.44L632.5 62.50L630.5 62.55L628.5 62.61L626.5 62.67L624.5 62.72L622.5 62.78L620.5 62.84L618.5 62.90L616.5 62.95L614.5 63.01L612.5 63.07L610.5 63.13L608.5 63.19L606.5 63.25L604.5 63.31L602.5 63.37L600.5 63.43L598.5 63.50L596.5 63.56L594.5 63.62L592.5 63.69L590.5 63.75L588.5 63.81L586.5 63.88L584.5 63.95L582.5 64.01L580.5 64.08L578.5 64.15L576.5 64.22L574.5 64.29L572.5 64.36L570.5 64.43L568.5 64.50L566.5 64.57L564.5 64.65L562.5 64.72L560.5 64.80L558.5 64.87L556.5 64.95L554.5 65.02L552.5 65.10L550.5 65.18L548.5 65.26L546.5 65.34L544.5 65.42L542.5 65.50L540.5 65.58L538.5 65.67L536.5 65.75L534.5 65.83L532.5 65.92L530.5 66.01L528.5 66.09L526.5 66.18L524.5 66.27L522.5 66.36L520.5 66.46L518.5 66.55L516.5 66.64L514.5 66.74L512.5 66.84L510.5 66.94L508.5 67.04L506.5 67.15L504.5 67.25L502.5 67.36L500.5 67.47L498.5 67.59L496.5 67.70L494.5 67.83L492.5 67.96L490.5 68.09L488.5 68.23L486.5 68.37L484.5 68.51L482.5 68.65L480.5 68.80L478.5 68.94L476.5 69.09L474.5 69.23L472.5 69.38L470.5 69.52L468.5 69.66L466.5 69.80L464.5 69.93L462.5 70.07L460.5 70.20L458.5 70.33L456.5 70.46L454.5 70.59L452.5 70.73L450.5 70.86L448.5 70.99L446.5 71.12L444.5 71.25L442.5 71.38L440.5 71.51L438.5 71.63L438.0 71.67L437.5 71.70L437.0 71.73L436.5 71.76L436.0 71.80L435.5 71.83L435.0 71.86L434.5 71.89L434.0 71.92L433.5 71.95L433.0 71.99L432.5 72.02L432.0 72.05L431.5 72.08L431.0 72.11L430.5 72.15L430.0 72.18L429.5 72.21L429.0 72.24L428.5 72.27L428.0 72.30L427.5 72.34L427.0 72.37L426.5 72.40L426.0 72.43L425.5 72.46L425.0 72.49L424.5 72.52L424.0 72.56L423.5 72.59L423.0 72.62L422.5 72.65L422.0 72.68L421.5 72.71L421.0 72.74L420.5 72.78L420.0 72.81L419.5 72.84L419.0 72.87L418.5 72.90Z" fill="#fff" stroke="none"/>
</g>
<g id="ax-b">
<path d="M410.6 4.7V179.1H667.9" fill="none" stroke="#262626" stroke-width="0.8"/>
<path d="M411.30 179.1v-2.6M462.56 179.1v-2.6M513.82 179.1v-2.6M565.08 179.1v-2.6M616.34 179.1v-2.6M667.60 179.1v-2.6M410.6 179.10h3.1M410.6 135.57h3.1M410.6 92.05h3.1M410.6 48.53h3.1M410.6 5.00h3.1" fill="none" stroke="#262626" stroke-width="0.75"/>
<g font-size="14.45" fill="#262626" stroke="#262626" stroke-width="0.22">
<text transform="translate(410.70 198.50) scale(1 1.07)" text-anchor="middle">0</text>
<text transform="translate(461.96 198.50) scale(1 1.07)" text-anchor="middle">0.01</text>
<text transform="translate(513.22 198.50) scale(1 1.07)" text-anchor="middle">0.02</text>
<text transform="translate(564.48 198.50) scale(1 1.07)" text-anchor="middle">0.03</text>
<text transform="translate(615.74 198.50) scale(1 1.07)" text-anchor="middle">0.04</text>
<text transform="translate(667.00 198.50) scale(1 1.07)" text-anchor="middle">0.05</text>
<text transform="translate(406.20 185.71) scale(1 1.07)" text-anchor="end">0</text>
<text transform="translate(406.20 142.18) scale(1 1.07)" text-anchor="end">100</text>
<text transform="translate(406.20 98.66) scale(1 1.07)" text-anchor="end">200</text>
<text transform="translate(406.20 55.13) scale(1 1.07)" text-anchor="end">300</text>
<text transform="translate(406.20 11.61) scale(1 1.07)" text-anchor="end">400</text>
</g>
<text x="539.15" y="217.30" text-anchor="middle" font-size="14.5" fill="#262626" stroke="#262626" stroke-width="0.22">Plastic strain <tspan font-family="Liberation Serif" font-style="italic" font-size="13.77" fill="#555" stroke="none">ϵ</tspan><tspan dx="-0.3" dy="7.76" font-size="11.60" stroke-width="0.1">p</tspan></text>
<text transform="translate(369.20 92.05) rotate(-90)" text-anchor="middle" font-size="14.5" fill="#262626" stroke="#262626" stroke-width="0.22">Flow stress <tspan font-family="Liberation Serif" font-style="italic" font-size="15.23" fill="#444" stroke="none">σ</tspan><tspan dy="6.96" font-size="11.60" stroke-width="0.1">y</tspan><tspan dy="-6.96">(MPa)</tspan></text>
<text x="539" y="241.5" text-anchor="middle" font-size="14.4" fill="#161616" stroke="#161616" stroke-width="0.22">(b) T=373.15 K (100°C)</text>
</g>
<g id="cv-c">
<path d="M52.0 362.80L52.5 362.78L53.0 362.76L53.5 362.75L54.0 362.73L54.5 362.71L55.0 362.69L55.5 362.68L56.0 362.66L56.5 362.64L57.0 362.62L57.5 362.61L58.0 362.59L58.5 362.57L59.0 362.55L59.5 362.53L60.0 362.52L60.5 362.50L61.0 362.48L61.5 362.46L62.0 362.45L62.5 362.43L63.0 362.41L63.5 362.39L64.0 362.38L64.5 362.36L65.0 362.34L65.5 362.32L66.0 362.31L66.5 362.29L67.0 362.27L67.5 362.25L68.0 362.24L68.5 362.22L69.0 362.20L69.5 362.18L70.0 362.17L70.5 362.15L71.0 362.13L71.5 362.11L72.0 362.10L74.0 362.03L76.0 361.96L78.0 361.89L80.0 361.82L82.0 361.75L84.0 361.68L86.0 361.61L88.0 361.54L90.0 361.48L92.0 361.41L94.0 361.34L96.0 361.27L98.0 361.20L100.0 361.13L102.0 361.07L104.0 361.00L106.0 360.93L108.0 360.86L110.0 360.80L112.0 360.73L114.0 360.66L116.0 360.60L118.0 360.53L120.0 360.46L122.0 360.40L124.0 360.33L126.0 360.26L128.0 360.20L130.0 360.13L132.0 360.06L134.0 360.00L136.0 359.93L138.0 359.87L140.0 359.80L142.0 359.73L144.0 359.67L146.0 359.60L148.0 359.52L150.0 359.45L152.0 359.38L154.0 359.31L156.0 359.23L158.0 359.16L160.0 359.09L162.0 359.02L164.0 358.95L166.0 358.88L168.0 358.81L170.0 358.75L172.0 358.68L174.0 358.62L176.0 358.56L178.0 358.51L180.0 358.45L182.0 358.41L184.0 358.36L186.0 358.32L188.0 358.28L190.0 358.24L192.0 358.21L194.0 358.17L196.0 358.13L198.0 358.10L200.0 358.06L202.0 358.03L204.0 357.99L206.0 357.95L208.0 357.92L210.0 357.88L212.0 357.85L214.0 357.81L216.0 357.78L218.0 357.75L220.0 357.71L222.0 357.68L224.0 357.65L226.0 357.61L228.0 357.58L230.0 357.55L232.0 357.52L234.0 357.49L236.0 357.46L238.0 357.43L240.0 357.40L242.0 357.37L244.0 357.34L246.0 357.31L248.0 357.29L250.0 357.26L252.0 357.23L254.0 357.21L256.0 357.18L258.0 357.16L260.0 357.14L262.0 357.11L264.0 357.09L266.0 357.07L268.0 357.05L270.0 357.03L272.0 357.01L274.0 356.99L276.0 356.97L278.0 356.96L280.0 356.94L282.0 356.92L284.0 356.91L286.0 356.90L288.0 356.88L290.0 356.87L292.0 356.86L294.0 356.85L296.0 356.84L298.0 356.83L300.0 356.82L302.0 356.82L304.0 356.81L306.0 356.81L308.0 356.80L310.0 356.80L312.0 356.80L313.8 356.80" fill="none" stroke="#000" stroke-width="2.0" stroke-linecap="butt" stroke-linejoin="round"/>
<path d="M52.0 355.30L52.5 355.30L53.0 355.30L53.5 355.29L54.0 355.29L54.5 355.29L55.0 355.29L55.5 355.28L56.0 355.28L56.5 355.27L57.0 355.27L57.5 355.26L58.0 355.26L58.5 355.25L59.0 355.25L59.5 355.24L60.0 355.23L60.5 355.23L61.0 355.22L61.5 355.21L62.0 355.20L62.5 355.20L63.0 355.19L63.5 355.18L64.0 355.17L64.5 355.16L65.0 355.16L65.5 355.15L66.0 355.14L66.5 355.13L67.0 355.12L67.5 355.11L68.0 355.10L68.5 355.09L69.0 355.08L69.5 355.07L70.0 355.06L70.5 355.05L71.0 355.04L71.5 355.03L72.0 355.02L74.0 354.98L76.0 354.92L78.0 354.86L80.0 354.79L82.0 354.71L84.0 354.62L86.0 354.53L88.0 354.44L90.0 354.34L92.0 354.25L94.0 354.15L96.0 354.06L98.0 353.98L100.0 353.90L102.0 353.82L104.0 353.75L106.0 353.67L108.0 353.60L110.0 353.53L112.0 353.45L114.0 353.38L116.0 353.31L118.0 353.24L120.0 353.17L122.0 353.10L124.0 353.03L126.0 352.96L128.0 352.89L130.0 352.82L132.0 352.76L134.0 352.69L136.0 352.63L138.0 352.56L140.0 352.50L142.0 352.44L144.0 352.38L146.0 352.32L148.0 352.25L150.0 352.19L152.0 352.13L154.0 352.07L156.0 352.01L158.0 351.96L160.0 351.90L162.0 351.84L164.0 351.78L166.0 351.73L168.0 351.67L170.0 351.62L172.0 351.57L174.0 351.51L176.0 351.46L178.0 351.41L180.0 351.36L182.0 351.31L184.0 351.27L186.0 351.22L188.0 351.18L190.0 351.13L192.0 351.09L194.0 351.05L196.0 351.00L198.0 350.96L200.0 350.92L202.0 350.87L204.0 350.83L206.0 350.79L208.0 350.74L210.0 350.70L212.0 350.66L214.0 350.62L216.0 350.58L218.0 350.54L220.0 350.49L222.0 350.45L224.0 350.41L226.0 350.37L228.0 350.33L230.0 350.29L232.0 350.25L234.0 350.21L236.0 350.17L238.0 350.14L240.0 350.10L242.0 350.06L244.0 350.02L246.0 349.99L248.0 349.95L250.0 349.91L252.0 349.88L254.0 349.84L256.0 349.81L258.0 349.77L260.0 349.74L262.0 349.70L264.0 349.67L266.0 349.64L268.0 349.60L270.0 349.57L272.0 349.54L274.0 349.51L276.0 349.48L278.0 349.45L280.0 349.42L282.0 349.39L284.0 349.36L286.0 349.33L288.0 349.30L290.0 349.28L292.0 349.25L294.0 349.23L296.0 349.20L298.0 349.17L300.0 349.15L302.0 349.13L304.0 349.10L306.0 349.08L308.0 349.06L310.0 349.04L312.0 349.02L313.8 349.00" fill="none" stroke="#000" stroke-width="4.5" stroke-linecap="butt" stroke-linejoin="round"/>
<path d="M52.0 347.90L52.5 347.87L53.0 347.83L53.5 347.80L54.0 347.76L54.5 347.73L55.0 347.69L55.5 347.65L56.0 347.62L56.5 347.58L57.0 347.54L57.5 347.50L58.0 347.46L58.5 347.42L59.0 347.39L59.5 347.35L60.0 347.31L60.5 347.27L61.0 347.22L61.5 347.18L62.0 347.14L62.5 347.10L63.0 347.06L63.5 347.02L64.0 346.97L64.5 346.93L65.0 346.89L65.5 346.84L66.0 346.80L66.5 346.76L67.0 346.71L67.5 346.66L68.0 346.61L68.5 346.56L69.0 346.51L69.5 346.46L70.0 346.40L70.5 346.35L71.0 346.30L71.5 346.24L72.0 346.19L74.0 345.97L76.0 345.76L78.0 345.57L80.0 345.40L82.0 345.25L84.0 345.10L86.0 344.96L88.0 344.83L90.0 344.70L92.0 344.58L94.0 344.47L96.0 344.37L98.0 344.28L100.0 344.20L102.0 344.13L104.0 344.07L106.0 344.01L108.0 343.95L110.0 343.90L112.0 343.85L114.0 343.81L116.0 343.77L118.0 343.73L120.0 343.70L122.0 343.67L124.0 343.64L126.0 343.61L128.0 343.58L130.0 343.56L132.0 343.53L134.0 343.51L136.0 343.49L138.0 343.47L140.0 343.45L142.0 343.43L144.0 343.41L146.0 343.39L148.0 343.37L150.0 343.35L152.0 343.33L154.0 343.32L156.0 343.30L158.0 343.28L160.0 343.27L162.0 343.25L164.0 343.23L166.0 343.22L168.0 343.20L170.0 343.18L172.0 343.16L174.0 343.14L176.0 343.12L178.0 343.10L180.0 343.08L182.0 343.06L184.0 343.04L186.0 343.01L188.0 342.99L190.0 342.96L192.0 342.94L194.0 342.91L196.0 342.88L198.0 342.86L200.0 342.83L202.0 342.80L204.0 342.78L206.0 342.75L208.0 342.72L210.0 342.70L212.0 342.67L214.0 342.64L216.0 342.61L218.0 342.58L220.0 342.55L222.0 342.52L224.0 342.49L226.0 342.46L228.0 342.43L230.0 342.40L232.0 342.37L234.0 342.34L236.0 342.31L238.0 342.28L240.0 342.25L242.0 342.21L244.0 342.18L246.0 342.15L248.0 342.12L250.0 342.08L252.0 342.05L254.0 342.02L256.0 341.98L258.0 341.95L260.0 341.92L262.0 341.88L264.0 341.85L266.0 341.81L268.0 341.78L270.0 341.74L272.0 341.70L274.0 341.67L276.0 341.63L278.0 341.60L280.0 341.56L282.0 341.52L284.0 341.48L286.0 341.45L288.0 341.41L290.0 341.37L292.0 341.33L294.0 341.29L296.0 341.26L298.0 341.22L300.0 341.18L302.0 341.14L304.0 341.10L306.0 341.06L308.0 341.02L310.0 340.98L312.0 340.94L313.8 340.90" fill="none" stroke="#000" stroke-width="2.8" stroke-linecap="butt" stroke-linejoin="round"/>
<path d="M52.0 343.20L52.5 343.19L53.0 343.18L53.5 343.17L54.0 343.16L54.5 343.15L55.0 343.14L55.5 343.13L56.0 343.13L56.5 343.12L57.0 343.11L57.5 343.10L58.0 343.09L58.5 343.08L59.0 343.07L59.5 343.06L60.0 343.05L60.5 343.04L61.0 343.03L61.5 343.02L62.0 343.01L62.5 343.00L63.0 343.00L63.5 342.99L64.0 342.98L64.5 342.97L65.0 342.96L65.5 342.95L66.0 342.94L66.5 342.93L67.0 342.92L67.5 342.91L68.0 342.91L68.5 342.90L69.0 342.89L69.5 342.88L70.0 342.87L70.5 342.86L71.0 342.85L71.5 342.84L72.0 342.83L74.0 342.80L76.0 342.77L78.0 342.73L80.0 342.70L82.0 342.67L84.0 342.64L86.0 342.61L88.0 342.58L90.0 342.54L92.0 342.52L94.0 342.49L96.0 342.46L98.0 342.43L100.0 342.40L102.0 342.37L104.0 342.34L106.0 342.32L108.0 342.29L110.0 342.26L112.0 342.24L114.0 342.21L116.0 342.18L118.0 342.16L120.0 342.13L122.0 342.10L124.0 342.08L126.0 342.05L128.0 342.03L130.0 342.00L132.0 341.98L134.0 341.95L136.0 341.92L138.0 341.90L140.0 341.87L142.0 341.85L144.0 341.82L146.0 341.79L148.0 341.77L150.0 341.74L152.0 341.72L154.0 341.69L156.0 341.66L158.0 341.63L160.0 341.61L162.0 341.58L164.0 341.55L166.0 341.52L168.0 341.49L170.0 341.46L172.0 341.43L174.0 341.40L176.0 341.37L178.0 341.34L180.0 341.31L182.0 341.28L184.0 341.25L186.0 341.22L188.0 341.18L190.0 341.15L192.0 341.12L194.0 341.08L196.0 341.05L198.0 341.01L200.0 340.98L202.0 340.94L204.0 340.91L206.0 340.87L208.0 340.84L210.0 340.80L212.0 340.76L214.0 340.73L216.0 340.69L218.0 340.65L220.0 340.62L222.0 340.58L224.0 340.54L226.0 340.50L228.0 340.46L230.0 340.43L232.0 340.39L234.0 340.35L236.0 340.31L238.0 340.27L240.0 340.23L242.0 340.19L244.0 340.15L246.0 340.11L248.0 340.07L250.0 340.03L252.0 339.99L254.0 339.94L256.0 339.90L258.0 339.86L260.0 339.82L262.0 339.78L264.0 339.73L266.0 339.69L268.0 339.65L270.0 339.60L272.0 339.56L274.0 339.52L276.0 339.47L278.0 339.43L280.0 339.38L282.0 339.34L284.0 339.29L286.0 339.25L288.0 339.20L290.0 339.16L292.0 339.11L294.0 339.07L296.0 339.02L298.0 338.97L300.0 338.93L302.0 338.88L304.0 338.83L306.0 338.79L308.0 338.74L310.0 338.69L312.0 338.64L313.8 338.60" fill="none" stroke="#000" stroke-width="2.8" stroke-linecap="butt" stroke-linejoin="round"/>
<path d="M52.0 340.10L52.5 340.07L53.0 340.04L53.5 340.01L54.0 339.98L54.5 339.95L55.0 339.92L55.5 339.89L56.0 339.86L56.5 339.82L57.0 339.79L57.5 339.76L58.0 339.73L58.5 339.70L59.0 339.67L59.5 339.64L60.0 339.62L60.5 339.59L61.0 339.56L61.5 339.53L62.0 339.50L62.5 339.47L63.0 339.44L63.5 339.41L64.0 339.38L64.5 339.35L65.0 339.33L65.5 339.30L66.0 339.27L66.5 339.24L67.0 339.21L67.5 339.19L68.0 339.16L68.5 339.13L69.0 339.11L69.5 339.08L70.0 339.05L70.5 339.03L71.0 339.00L71.5 338.98L72.0 338.95L74.0 338.85L76.0 338.75L78.0 338.66L80.0 338.56L82.0 338.47L84.0 338.38L86.0 338.30L88.0 338.21L90.0 338.12L92.0 338.04L94.0 337.95L96.0 337.87L98.0 337.79L100.0 337.71L102.0 337.63L104.0 337.55L106.0 337.47L108.0 337.39L110.0 337.31L112.0 337.23L114.0 337.15L116.0 337.06L118.0 336.98L120.0 336.90L122.0 336.82L124.0 336.73L126.0 336.65L128.0 336.56L130.0 336.48L132.0 336.39L134.0 336.31L136.0 336.22L138.0 336.14L140.0 336.05L142.0 335.97L144.0 335.88L146.0 335.80L148.0 335.71L150.0 335.63L152.0 335.55L154.0 335.46L156.0 335.38L158.0 335.30L160.0 335.21L162.0 335.13L164.0 335.05L166.0 334.97L168.0 334.89L170.0 334.82L172.0 334.74L174.0 334.66L176.0 334.59L178.0 334.51L180.0 334.44L182.0 334.37L184.0 334.30L186.0 334.23L188.0 334.17L190.0 334.10L192.0 334.03L194.0 333.97L196.0 333.90L198.0 333.84L200.0 333.77L202.0 333.71L204.0 333.65L206.0 333.58L208.0 333.52L210.0 333.46L212.0 333.40L214.0 333.34L216.0 333.28L218.0 333.22L220.0 333.16L222.0 333.11L224.0 333.05L226.0 332.99L228.0 332.94L230.0 332.88L232.0 332.83L234.0 332.78L236.0 332.73L238.0 332.68L240.0 332.63L242.0 332.58L244.0 332.53L246.0 332.49L248.0 332.44L250.0 332.40L252.0 332.36L254.0 332.31L256.0 332.27L258.0 332.23L260.0 332.19L262.0 332.15L264.0 332.11L266.0 332.07L268.0 332.03L270.0 331.99L272.0 331.95L274.0 331.91L276.0 331.88L278.0 331.84L280.0 331.80L282.0 331.77L284.0 331.73L286.0 331.70L288.0 331.67L290.0 331.63L292.0 331.60L294.0 331.57L296.0 331.54L298.0 331.51L300.0 331.48L302.0 331.45L304.0 331.42L306.0 331.40L308.0 331.37L310.0 331.35L312.0 331.32L313.8 331.30" fill="none" stroke="#000" stroke-width="2.3" stroke-linecap="butt" stroke-linejoin="round"/>
<path d="M52.0 337.20L52.5 337.17L53.0 337.14L53.5 337.12L54.0 337.09L54.5 337.06L55.0 337.03L55.5 337.01L56.0 336.98L56.5 336.95L57.0 336.92L57.5 336.90L58.0 336.87L58.5 336.84L59.0 336.82L59.5 336.79L60.0 336.76L60.5 336.74L61.0 336.71L61.5 336.68L62.0 336.66L62.5 336.63L63.0 336.60L63.5 336.58L64.0 336.55L64.5 336.52L65.0 336.50L65.5 336.47L66.0 336.45L66.5 336.42L67.0 336.40L67.5 336.37L68.0 336.35L68.5 336.32L69.0 336.30L69.5 336.27L70.0 336.25L70.5 336.22L71.0 336.20L71.5 336.17L72.0 336.15L74.0 336.05L76.0 335.96L78.0 335.86L80.0 335.77L82.0 335.68L84.0 335.59L86.0 335.50L88.0 335.41L90.0 335.32L92.0 335.23L94.0 335.15L96.0 335.06L98.0 334.98L100.0 334.89L102.0 334.81L104.0 334.73L106.0 334.65L108.0 334.56L110.0 334.48L112.0 334.41L114.0 334.33L116.0 334.25L118.0 334.18L120.0 334.10L122.0 334.03L124.0 333.95L126.0 333.88L128.0 333.80L130.0 333.73L132.0 333.66L134.0 333.58L136.0 333.51L138.0 333.44L140.0 333.37L142.0 333.30L144.0 333.23L146.0 333.16L148.0 333.09L150.0 333.02L152.0 332.95L154.0 332.88L156.0 332.82L158.0 332.75L160.0 332.68L162.0 332.62L164.0 332.56L166.0 332.49L168.0 332.43L170.0 332.37L172.0 332.31L174.0 332.25L176.0 332.20L178.0 332.14L180.0 332.08L182.0 332.03L184.0 331.98L186.0 331.93L188.0 331.87L190.0 331.82L192.0 331.78L194.0 331.73L196.0 331.68L198.0 331.63L200.0 331.59L202.0 331.54L204.0 331.49L206.0 331.45L208.0 331.41L210.0 331.36L212.0 331.32L214.0 331.28L216.0 331.23L218.0 331.19L220.0 331.15L222.0 331.11L224.0 331.07L226.0 331.03L228.0 330.99L230.0 330.96L232.0 330.92L234.0 330.88L236.0 330.84L238.0 330.81L240.0 330.77L242.0 330.74L244.0 330.70L246.0 330.67L248.0 330.63L250.0 330.60L252.0 330.57L254.0 330.53L256.0 330.50L258.0 330.47L260.0 330.44L262.0 330.40L264.0 330.37L266.0 330.34L268.0 330.31L270.0 330.28L272.0 330.25L274.0 330.22L276.0 330.19L278.0 330.16L280.0 330.13L282.0 330.10L284.0 330.07L286.0 330.04L288.0 330.02L290.0 329.99L292.0 329.96L294.0 329.94L296.0 329.91L298.0 329.89L300.0 329.86L302.0 329.84L304.0 329.81L306.0 329.79L308.0 329.76L310.0 329.74L312.0 329.72L313.8 329.70" fill="none" stroke="#000" stroke-width="2.0" stroke-linecap="butt" stroke-linejoin="round"/>
<path d="M52.0 338.65L52.5 338.62L53.0 338.59L53.5 338.56L54.0 338.53L54.5 338.50L55.0 338.48L55.5 338.45L56.0 338.42L56.5 338.39L57.0 338.36L57.5 338.33L58.0 338.30L58.5 338.27L59.0 338.25L59.5 338.22L60.0 338.19L60.5 338.16L61.0 338.13L61.5 338.10L62.0 338.08L62.5 338.05L63.0 338.02L63.5 337.99L64.0 337.97L64.5 337.94L65.0 337.91L65.5 337.89L66.0 337.86L66.5 337.83L67.0 337.81L67.5 337.78L68.0 337.75L68.5 337.73L69.0 337.70L69.5 337.68L70.0 337.65L70.5 337.62L71.0 337.60L71.5 337.57L72.0 337.55L74.0 337.45L76.0 337.36L78.0 337.26L80.0 337.17L82.0 337.08L84.0 336.99L86.0 336.90L88.0 336.81L90.0 336.72L92.0 336.64L94.0 336.55L96.0 336.47L98.0 336.38L100.0 336.30L102.0 336.22L104.0 336.14L106.0 336.06L108.0 335.98L110.0 335.90L112.0 335.82L114.0 335.74L116.0 335.66L118.0 335.58L120.0 335.50L122.0 335.42L124.0 335.34L126.0 335.26L128.0 335.19L130.0 335.11L132.0 335.03L134.0 334.95L136.0 334.88L138.0 334.80L140.0 334.72L142.0 334.65L144.0 334.57L146.0 334.50L148.0 334.42L150.0 334.35L152.0 334.28L154.0 334.20L156.0 334.13L158.0 334.06L160.0 333.98L162.0 333.91L164.0 333.84L166.0 333.77L168.0 333.70L170.0 333.63L172.0 333.56L174.0 333.49L176.0 333.42L178.0 333.35L180.0 333.28L182.0 333.22L184.0 333.15L186.0 333.08L187.0 333.05" fill="none" stroke="#fff" stroke-width="0.7" stroke-dasharray="1.3 0.9"/>
<path d="M187.0 333.05L187.5 333.04L188.0 333.02L188.5 333.01L189.0 332.99L189.5 332.98L190.0 332.96L190.5 332.95L191.0 332.93L191.5 332.92L192.0 332.91L192.5 332.89L193.0 332.88L193.5 332.86L194.0 332.85L194.5 332.84L195.0 332.82L195.5 332.81L196.0 332.79L196.5 332.78L197.0 332.77L197.5 332.75L198.0 332.74L198.5 332.72L199.0 332.71L199.5 332.70L200.0 332.68L200.5 332.67L201.0 332.65L201.5 332.64L202.0 332.63L202.5 332.61L203.0 332.60L203.5 332.59L204.0 332.57L204.5 332.56L205.0 332.55L205.5 332.53L206.0 332.52L206.5 332.51L207.0 332.49L209.0 332.44L211.0 332.39L213.0 332.34L215.0 332.29L217.0 332.23L219.0 332.18L221.0 332.14L223.0 332.09L225.0 332.04L227.0 331.99L229.0 331.95L231.0 331.90L233.0 331.85L235.0 331.81L237.0 331.77L239.0 331.72L241.0 331.68L243.0 331.64L245.0 331.60L247.0 331.56L249.0 331.52L251.0 331.48L253.0 331.44L255.0 331.41L257.0 331.37L259.0 331.33L261.0 331.29L263.0 331.26L265.0 331.22L267.0 331.19L269.0 331.15L271.0 331.12L273.0 331.08L275.0 331.05L277.0 331.02L279.0 330.98L281.0 330.95L283.0 330.92L285.0 330.89L287.0 330.86L289.0 330.83L291.0 330.80L293.0 330.77L295.0 330.74L297.0 330.71L299.0 330.68L301.0 330.66L303.0 330.63L305.0 330.60L307.0 330.58L309.0 330.56L311.0 330.53L313.0 330.51L313.8 330.50" fill="none" stroke="#fff" stroke-width="0.45" stroke-dasharray="1.0 1.3" opacity="0.5"/>
<path d="M215.0 350.20L215.5 350.19L216.0 350.18L216.5 350.18L217.0 350.17L217.5 350.16L218.0 350.15L218.5 350.15L219.0 350.14L219.5 350.13L220.0 350.12L220.5 350.12L221.0 350.11L221.5 350.10L222.0 350.09L222.5 350.08L223.0 350.08L223.5 350.07L224.0 350.06L224.5 350.05L225.0 350.05L225.5 350.04L226.0 350.03L226.5 350.02L227.0 350.02L227.5 350.01L228.0 350.00L228.5 349.99L229.0 349.99L229.5 349.98L230.0 349.97L230.5 349.96L231.0 349.95L231.5 349.95L232.0 349.94L232.5 349.93L233.0 349.92L233.5 349.92L234.0 349.91L234.5 349.90L235.0 349.89L237.0 349.86L239.0 349.83L241.0 349.80L243.0 349.77L245.0 349.74L247.0 349.71L249.0 349.68L251.0 349.65L253.0 349.62L255.0 349.59L257.0 349.56L259.0 349.53L261.0 349.49L263.0 349.46L265.0 349.43L267.0 349.40L269.0 349.37L271.0 349.34L273.0 349.31L275.0 349.28L277.0 349.25L279.0 349.22L281.0 349.19L283.0 349.16L285.0 349.13L287.0 349.10L289.0 349.07L291.0 349.03L293.0 349.00L295.0 348.97L297.0 348.94L299.0 348.91L301.0 348.88L303.0 348.85L305.0 348.82L307.0 348.79L309.0 348.76L311.0 348.73L312.8 348.70" fill="none" stroke="#777" stroke-width="0.6" stroke-dasharray="1.2 1.6"/>
</g>
<g id="ax-c">
<path d="M52.599999999999994 273.3V450.5H313.6" fill="none" stroke="#262626" stroke-width="0.8"/>
<path d="M53.30 450.5v-2.6M105.30 450.5v-2.6M157.30 450.5v-2.6M209.30 450.5v-2.6M261.30 450.5v-2.6M313.30 450.5v-2.6M52.599999999999994 450.90h3.1M52.599999999999994 406.57h3.1M52.599999999999994 362.25h3.1M52.599999999999994 317.93h3.1M52.599999999999994 273.60h3.1" fill="none" stroke="#262626" stroke-width="0.75"/>
<g font-size="14.45" fill="#262626" stroke="#262626" stroke-width="0.22">
<text transform="translate(52.70 470.10) scale(1 1.07)" text-anchor="middle">0</text>
<text transform="translate(104.70 470.10) scale(1 1.07)" text-anchor="middle">0.01</text>
<text transform="translate(156.70 470.10) scale(1 1.07)" text-anchor="middle">0.02</text>
<text transform="translate(208.70 470.10) scale(1 1.07)" text-anchor="middle">0.03</text>
<text transform="translate(260.70 470.10) scale(1 1.07)" text-anchor="middle">0.04</text>
<text transform="translate(312.70 470.10) scale(1 1.07)" text-anchor="middle">0.05</text>
<text transform="translate(48.20 457.51) scale(1 1.07)" text-anchor="end">0</text>
<text transform="translate(48.20 413.18) scale(1 1.07)" text-anchor="end">100</text>
<text transform="translate(48.20 368.86) scale(1 1.07)" text-anchor="end">200</text>
<text transform="translate(48.20 324.53) scale(1 1.07)" text-anchor="end">300</text>
<text transform="translate(48.20 280.21) scale(1 1.07)" text-anchor="end">400</text>
</g>
<text x="183.00" y="489.10" text-anchor="middle" font-size="14.5" fill="#262626" stroke="#262626" stroke-width="0.22">Plastic strain <tspan font-family="Liberation Serif" font-style="italic" font-size="13.77" fill="#555" stroke="none">ϵ</tspan><tspan dx="-0.3" dy="7.76" font-size="11.60" stroke-width="0.1">p</tspan></text>
<text transform="translate(11.20 362.25) rotate(-90)" text-anchor="middle" font-size="14.5" fill="#262626" stroke="#262626" stroke-width="0.22">Flow stress <tspan font-family="Liberation Serif" font-style="italic" font-size="15.23" fill="#444" stroke="none">σ</tspan><tspan dy="6.96" font-size="11.60" stroke-width="0.1">y</tspan><tspan dy="-6.96">(MPa)</tspan></text>
<text x="181" y="520.7" text-anchor="middle" font-size="14.4" fill="#161616" stroke="#161616" stroke-width="0.22">(c) T=423.15 K (150°C)</text>
</g>
<g id="cv-d">
<path d="M410.0 355.50L410.5 355.51L411.0 355.53L411.5 355.54L412.0 355.55L412.5 355.56L413.0 355.57L413.5 355.58L414.0 355.60L414.5 355.61L415.0 355.62L415.5 355.63L416.0 355.64L416.5 355.65L417.0 355.66L417.5 355.66L418.0 355.67L418.5 355.68L419.0 355.69L419.5 355.69L420.0 355.70L420.5 355.71L421.0 355.71L421.5 355.72L422.0 355.72L422.5 355.73L423.0 355.74L423.5 355.74L424.0 355.75L424.5 355.75L425.0 355.76L425.5 355.76L426.0 355.77L426.5 355.77L427.0 355.78L427.5 355.78L428.0 355.78L428.5 355.79L429.0 355.79L429.5 355.79L430.0 355.80L432.0 355.80L434.0 355.79L436.0 355.78L438.0 355.75L440.0 355.72L442.0 355.68L444.0 355.64L446.0 355.60L448.0 355.55L450.0 355.50L452.0 355.45L454.0 355.41L456.0 355.37L458.0 355.33L460.0 355.30L462.0 355.27L464.0 355.25L466.0 355.22L468.0 355.19L470.0 355.16L472.0 355.14L474.0 355.11L476.0 355.08L478.0 355.06L480.0 355.03L482.0 355.01L484.0 354.99L486.0 354.97L488.0 354.95L490.0 354.94L492.0 354.92L494.0 354.91L496.0 354.91L498.0 354.90L500.0 354.90L502.0 354.90L504.0 354.90L506.0 354.91L508.0 354.91L510.0 354.92L512.0 354.92L514.0 354.93L516.0 354.94L518.0 354.94L520.0 354.95L522.0 354.96L524.0 354.97L526.0 354.99L528.0 355.00L530.0 355.01L532.0 355.02L534.0 355.03L536.0 355.05L538.0 355.06L540.0 355.07L542.0 355.08L544.0 355.09L546.0 355.11L548.0 355.12L550.0 355.13L552.0 355.15L554.0 355.16L556.0 355.18L558.0 355.19L560.0 355.21L562.0 355.23L564.0 355.24L566.0 355.26L568.0 355.28L570.0 355.30L572.0 355.32L574.0 355.34L576.0 355.36L578.0 355.38L580.0 355.40L582.0 355.42L584.0 355.44L586.0 355.46L588.0 355.48L590.0 355.50L592.0 355.52L594.0 355.54L596.0 355.56L598.0 355.58L600.0 355.60L602.0 355.62L604.0 355.64L606.0 355.66L608.0 355.68L610.0 355.70L612.0 355.72L614.0 355.74L616.0 355.77L618.0 355.79L620.0 355.81L622.0 355.83L624.0 355.85L626.0 355.87L628.0 355.89L630.0 355.91L632.0 355.93L634.0 355.95L636.0 355.97L638.0 355.98L640.0 356.00L642.0 356.02L644.0 356.03L646.0 356.04L648.0 356.06L650.0 356.07L652.0 356.09L654.0 356.10L656.0 356.11L658.0 356.13L660.0 356.14L662.0 356.15L664.0 356.16L666.0 356.17L668.0 356.18L670.0 356.19L671.8 356.20L671.8 369.90L670.0 369.89L668.0 369.88L666.0 369.87L664.0 369.85L662.0 369.84L660.0 369.83L658.0 369.82L656.0 369.81L654.0 369.79L652.0 369.78L650.0 369.77L648.0 369.76L646.0 369.75L644.0 369.74L642.0 369.73L640.0 369.72L638.0 369.71L636.0 369.70L634.0 369.69L632.0 369.68L630.0 369.67L628.0 369.66L626.0 369.65L624.0 369.65L622.0 369.64L620.0 369.63L618.0 369.63L616.0 369.62L614.0 369.62L612.0 369.61L610.0 369.61L608.0 369.61L606.0 369.60L604.0 369.60L602.0 369.60L600.0 369.60L598.0 369.60L596.0 369.60L594.0 369.60L592.0 369.60L590.0 369.60L588.0 369.60L586.0 369.60L584.0 369.60L582.0 369.60L580.0 369.60L578.0 369.60L576.0 369.60L574.0 369.60L572.0 369.60L570.0 369.60L568.0 369.60L566.0 369.60L564.0 369.60L562.0 369.60L560.0 369.60L558.0 369.60L556.0 369.60L554.0 369.60L552.0 369.60L550.0 369.60L548.0 369.60L546.0 369.60L544.0 369.60L542.0 369.60L540.0 369.60L538.0 369.60L536.0 369.60L534.0 369.60L532.0 369.60L530.0 369.60L528.0 369.60L526.0 369.60L524.0 369.60L522.0 369.60L520.0 369.60L518.0 369.60L516.0 369.60L514.0 369.60L512.0 369.60L510.0 369.60L508.0 369.60L506.0 369.60L504.0 369.60L502.0 369.60L500.0 369.60L498.0 369.60L496.0 369.60L494.0 369.60L492.0 369.60L490.0 369.60L488.0 369.60L486.0 369.60L484.0 369.60L482.0 369.60L480.0 369.61L478.0 369.61L476.0 369.61L474.0 369.61L472.0 369.61L470.0 369.61L468.0 369.62L466.0 369.62L464.0 369.62L462.0 369.63L460.0 369.63L458.0 369.63L456.0 369.64L454.0 369.64L452.0 369.64L450.0 369.65L448.0 369.65L446.0 369.66L444.0 369.66L442.0 369.67L440.0 369.67L438.0 369.68L436.0 369.69L434.0 369.69L432.0 369.70L430.0 369.72L429.5 369.73L429.0 369.74L428.5 369.76L428.0 369.77L427.5 369.79L427.0 369.80L426.5 369.82L426.0 369.84L425.5 369.86L425.0 369.88L424.5 369.90L424.0 369.92L423.5 369.94L423.0 369.97L422.5 369.99L422.0 370.01L421.5 370.03L421.0 370.06L420.5 370.08L420.0 370.10L419.5 370.12L419.0 370.15L418.5 370.17L418.0 370.19L417.5 370.22L417.0 370.25L416.5 370.28L416.0 370.30L415.5 370.33L415.0 370.36L414.5 370.39L414.0 370.43L413.5 370.46L413.0 370.49L412.5 370.53L412.0 370.56L411.5 370.59L411.0 370.63L410.5 370.66L410.0 370.70Z" fill="#000" stroke="none"/>
<path d="M410.0 351.30L410.5 351.26L411.0 351.22L411.5 351.18L412.0 351.14L412.5 351.10L413.0 351.06L413.5 351.02L414.0 350.99L414.5 350.95L415.0 350.91L415.5 350.88L416.0 350.84L416.5 350.81L417.0 350.78L417.5 350.75L418.0 350.71L418.5 350.68L419.0 350.66L419.5 350.63L420.0 350.60L420.5 350.57L421.0 350.55L421.5 350.52L422.0 350.50L422.5 350.47L423.0 350.45L423.5 350.42L424.0 350.40L424.5 350.37L425.0 350.35L425.5 350.33L426.0 350.30L426.5 350.28L427.0 350.26L427.5 350.24L428.0 350.22L428.5 350.20L429.0 350.18L429.5 350.16L430.0 350.14L432.0 350.07L434.0 350.01L434.5 350.00" fill="none" stroke="#000" stroke-width="2.1" stroke-linecap="butt" stroke-linejoin="round"/>
<path d="M435.0 350.00L435.5 350.00L436.0 350.01L436.5 350.01L437.0 350.02L437.5 350.02L438.0 350.03L438.5 350.04L439.0 350.04L439.5 350.05L440.0 350.05L440.5 350.06L441.0 350.06L441.5 350.06L442.0 350.07L442.5 350.07L443.0 350.08L443.5 350.08L444.0 350.09L444.5 350.09L445.0 350.10L445.5 350.11L446.0 350.11L446.5 350.12L447.0 350.12L447.5 350.12L448.0 350.13L448.5 350.13L449.0 350.14L449.5 350.14L450.0 350.15L450.5 350.15L451.0 350.16L451.5 350.16L452.0 350.17L452.5 350.18L453.0 350.18L453.5 350.19L454.0 350.19L454.5 350.19L455.0 350.20" fill="none" stroke="#000" stroke-width="2.0" stroke-dasharray="1.6 1.1" stroke-linecap="butt" stroke-linejoin="round"/>
<path d="M455.0 350.20L455.5 350.22L456.0 350.23L456.5 350.25L457.0 350.26L457.5 350.28L458.0 350.30L458.5 350.31L459.0 350.33L459.5 350.34L460.0 350.36L460.5 350.37L461.0 350.39L461.5 350.40L462.0 350.42L462.5 350.43L463.0 350.45L463.5 350.46L464.0 350.48L464.5 350.49L465.0 350.51L465.5 350.52L466.0 350.54L466.5 350.55L467.0 350.56L467.5 350.58L468.0 350.59L468.5 350.61L469.0 350.62L469.5 350.63L470.0 350.65L470.5 350.66L471.0 350.67L471.5 350.69L472.0 350.70L472.5 350.71L473.0 350.73L473.5 350.74L474.0 350.75L474.5 350.77L475.0 350.78L477.0 350.83L479.0 350.88L481.0 350.92L483.0 350.97L485.0 351.01L487.0 351.06L489.0 351.10L491.0 351.14L493.0 351.18L495.0 351.21L497.0 351.25L499.0 351.28L501.0 351.32L503.0 351.35L505.0 351.38L507.0 351.41L509.0 351.43L511.0 351.46L513.0 351.49L515.0 351.51L517.0 351.54L519.0 351.56L521.0 351.59L523.0 351.61L525.0 351.64L527.0 351.66L529.0 351.68L531.0 351.71L533.0 351.73L535.0 351.76L537.0 351.79L539.0 351.81L541.0 351.84L543.0 351.87L545.0 351.90L547.0 351.93L549.0 351.96L551.0 351.99L553.0 352.03L555.0 352.06L557.0 352.09L559.0 352.13L561.0 352.16L563.0 352.19L565.0 352.23L567.0 352.26L569.0 352.30L571.0 352.33L573.0 352.37L575.0 352.41L577.0 352.44L579.0 352.48L581.0 352.52L583.0 352.56L585.0 352.60L587.0 352.64L589.0 352.68L591.0 352.72L593.0 352.76L595.0 352.80L597.0 352.84L599.0 352.88L600.0 352.90" fill="none" stroke="#000" stroke-width="2.3" stroke-linecap="butt" stroke-linejoin="round"/>
<path d="M600.0 352.90L600.5 352.91L601.0 352.91L601.5 352.92L602.0 352.92L602.5 352.93L603.0 352.93L603.5 352.94L604.0 352.95L604.5 352.95L605.0 352.96L605.5 352.97L606.0 352.97L606.5 352.98L607.0 352.99L607.5 352.99L608.0 353.00L608.5 353.01L609.0 353.01L609.5 353.02L610.0 353.03L610.5 353.04L611.0 353.04L611.5 353.05L612.0 353.06L612.5 353.07L613.0 353.08L613.5 353.08L614.0 353.09L614.5 353.10L615.0 353.11L615.5 353.12L616.0 353.13L616.5 353.13L617.0 353.14L617.5 353.15L618.0 353.16L618.5 353.17L619.0 353.18L619.5 353.19L620.0 353.20L622.0 353.23L624.0 353.27L626.0 353.31L628.0 353.35L630.0 353.39L632.0 353.43L634.0 353.47L636.0 353.51L638.0 353.56L640.0 353.60L642.0 353.64L644.0 353.69L646.0 353.73L648.0 353.78L650.0 353.83L652.0 353.89L654.0 353.96L656.0 354.04L658.0 354.14L660.0 354.26L662.0 354.41L664.0 354.56L666.0 354.73L668.0 354.92L670.0 355.12L671.8 355.30" fill="none" stroke="#000" stroke-width="1.8" stroke-linecap="butt" stroke-linejoin="round"/>
<path d="M420.0 358.60L420.5 358.60L421.0 358.60L421.5 358.59L422.0 358.59L422.5 358.59L423.0 358.59L423.5 358.59L424.0 358.58L424.5 358.58L425.0 358.58L425.5 358.58L426.0 358.58L426.5 358.57L427.0 358.57L427.5 358.57L428.0 358.57L428.5 358.57L429.0 358.56L429.5 358.56L430.0 358.56L430.5 358.56L431.0 358.56L431.5 358.55L432.0 358.55L432.5 358.55L433.0 358.55L433.5 358.55L434.0 358.54L434.5 358.54L435.0 358.54L435.5 358.54L436.0 358.54L436.5 358.53L437.0 358.53L437.5 358.53L438.0 358.53L438.5 358.53L439.0 358.52L439.5 358.52L440.0 358.52L442.0 358.51L444.0 358.50L445.0 358.50" fill="none" stroke="#888" stroke-width="0.6"/>
<path d="M411.0 362.30L411.5 362.30L412.0 362.30L412.5 362.31L413.0 362.31L413.5 362.31L414.0 362.31L414.5 362.32L415.0 362.32L415.5 362.32L416.0 362.32L416.5 362.33L417.0 362.33L417.5 362.33L418.0 362.33L418.5 362.34L419.0 362.34L419.5 362.34L420.0 362.34L420.5 362.35L421.0 362.35L421.5 362.35L422.0 362.35L422.5 362.35L423.0 362.36L423.5 362.36L424.0 362.36L424.5 362.36L425.0 362.37L425.5 362.37L426.0 362.37L426.5 362.37L427.0 362.38L427.5 362.38L428.0 362.38L428.5 362.38L429.0 362.39L429.5 362.39L430.0 362.39L430.5 362.39L431.0 362.40L432.0 362.40" fill="none" stroke="#777" stroke-width="0.6"/>
<path d="M412.0 363.60L412.5 363.61L413.0 363.62L413.5 363.62L414.0 363.63L414.5 363.64L415.0 363.65L415.5 363.66L416.0 363.66L416.5 363.67L417.0 363.68L417.5 363.69L418.0 363.70L418.5 363.70L419.0 363.71L419.5 363.72L420.0 363.73L420.5 363.74L421.0 363.74L421.5 363.75L422.0 363.76L422.5 363.77L423.0 363.77L423.5 363.78L424.0 363.79L424.5 363.80L425.0 363.80L425.5 363.81L426.0 363.82L426.5 363.82L427.0 363.83L427.5 363.84L428.0 363.85L428.5 363.85L429.0 363.86L429.5 363.87L430.0 363.87L430.5 363.88L431.0 363.88L431.5 363.89L432.0 363.90L434.0 363.92L436.0 363.94L438.0 363.96L440.0 363.97L442.0 363.99L444.0 364.00L446.0 364.00L448.0 364.01L450.0 364.02L452.0 364.02L454.0 364.03L456.0 364.03L458.0 364.04L460.0 364.04L462.0 364.04L464.0 364.05L466.0 364.05L468.0 364.05L470.0 364.06L472.0 364.06L474.0 364.06L476.0 364.07L478.0 364.07L480.0 364.07L482.0 364.07L484.0 364.08L486.0 364.08L488.0 364.08L490.0 364.08L492.0 364.09L494.0 364.09L496.0 364.09L498.0 364.10L500.0 364.10L502.0 364.10L504.0 364.11L506.0 364.11L508.0 364.11L510.0 364.12L512.0 364.12L514.0 364.12L516.0 364.13L518.0 364.13L520.0 364.13L522.0 364.14L524.0 364.14L526.0 364.14L528.0 364.15L530.0 364.15L532.0 364.15L534.0 364.16L536.0 364.16L538.0 364.16L540.0 364.17L542.0 364.17L544.0 364.17L546.0 364.18L548.0 364.18L550.0 364.18L552.0 364.19L554.0 364.19L556.0 364.19L558.0 364.20L560.0 364.20" fill="none" stroke="#5a5a5a" stroke-width="0.55"/>
<path d="M426.0 364.60L426.5 364.60L427.0 364.60L427.5 364.60L428.0 364.60L428.5 364.60L429.0 364.60L429.5 364.60L430.0 364.60L430.5 364.60L431.0 364.60L431.5 364.60L432.0 364.60L432.5 364.60L433.0 364.60L433.5 364.60L434.0 364.60L434.5 364.60L435.0 364.60L435.5 364.60L436.0 364.60L436.5 364.60L437.0 364.60L437.5 364.60L438.0 364.60L438.5 364.60L439.0 364.60L439.5 364.60L440.0 364.60" fill="none" stroke="#555" stroke-width="0.5"/>
<path d="M495.0 357.40L495.5 357.40L496.0 357.41L496.5 357.41L497.0 357.41L497.5 357.42L498.0 357.42L498.5 357.42L499.0 357.43L499.5 357.43L500.0 357.43L500.5 357.44L501.0 357.44L501.5 357.44L502.0 357.45L502.5 357.45L503.0 357.45L503.5 357.46L504.0 357.46L504.5 357.46L505.0 357.47L505.5 357.47L506.0 357.47L506.5 357.48L507.0 357.48L507.5 357.48L508.0 357.49L508.5 357.49L509.0 357.49L509.5 357.50L510.0 357.50L510.5 357.50L511.0 357.51L511.5 357.51L512.0 357.51L512.5 357.52L513.0 357.52L513.5 357.52L514.0 357.53L514.5 357.53L515.0 357.54L517.0 357.55L519.0 357.56L521.0 357.58L523.0 357.59L525.0 357.61L527.0 357.63L529.0 357.64L531.0 357.66L533.0 357.67L535.0 357.69L537.0 357.71L539.0 357.72L541.0 357.74L543.0 357.75L545.0 357.77L547.0 357.79L549.0 357.80L551.0 357.82L553.0 357.84L555.0 357.86L557.0 357.87L559.0 357.89L561.0 357.91L563.0 357.93L565.0 357.94L567.0 357.96L569.0 357.98L571.0 358.00L573.0 358.02L575.0 358.04L577.0 358.06L579.0 358.08L581.0 358.10L583.0 358.12L585.0 358.14L587.0 358.16L589.0 358.18L591.0 358.20L593.0 358.22L595.0 358.25L597.0 358.27L599.0 358.29L600.0 358.30" fill="none" stroke="#aaa" stroke-width="0.6" stroke-dasharray="1.0 1.5"/>
<path d="M600.0 358.30L600.5 358.31L601.0 358.31L601.5 358.32L602.0 358.33L602.5 358.34L603.0 358.34L603.5 358.35L604.0 358.36L604.5 358.36L605.0 358.37L605.5 358.38L606.0 358.38L606.5 358.39L607.0 358.40L607.5 358.41L608.0 358.41L608.5 358.42L609.0 358.43L609.5 358.43L610.0 358.44L610.5 358.45L611.0 358.45L611.5 358.46L612.0 358.46L612.5 358.47L613.0 358.48L613.5 358.48L614.0 358.49L614.5 358.50L615.0 358.50L615.5 358.51L616.0 358.52L616.5 358.52L617.0 358.53L617.5 358.53L618.0 358.54L618.5 358.55L619.0 358.55L619.5 358.56L620.0 358.56L622.0 358.59L624.0 358.61L626.0 358.63L628.0 358.65L630.0 358.68L632.0 358.70L634.0 358.72L636.0 358.74L638.0 358.76L640.0 358.77L642.0 358.79L644.0 358.81L646.0 358.83L648.0 358.84L650.0 358.86L652.0 358.88L654.0 358.89L656.0 358.91L658.0 358.92L660.0 358.94L662.0 358.95L664.0 358.96L666.0 358.97L668.0 358.98L670.0 358.99L671.3 359.00" fill="none" stroke="#fff" stroke-width="1.0" stroke-dasharray="1.2 1.3"/>
</g>
<g id="ax-d">
<path d="M410.3 273.3V450.5H671.6999999999999" fill="none" stroke="#262626" stroke-width="0.8"/>
<path d="M411.00 450.5v-2.6M463.08 450.5v-2.6M515.16 450.5v-2.6M567.24 450.5v-2.6M619.32 450.5v-2.6M671.40 450.5v-2.6M410.3 450.90h3.1M410.3 406.57h3.1M410.3 362.25h3.1M410.3 317.93h3.1M410.3 273.60h3.1" fill="none" stroke="#262626" stroke-width="0.75"/>
<g font-size="14.45" fill="#262626" stroke="#262626" stroke-width="0.22">
<text transform="translate(410.40 470.10) scale(1 1.07)" text-anchor="middle">0</text>
<text transform="translate(462.48 470.10) scale(1 1.07)" text-anchor="middle">0.01</text>
<text transform="translate(514.56 470.10) scale(1 1.07)" text-anchor="middle">0.02</text>
<text transform="translate(566.64 470.10) scale(1 1.07)" text-anchor="middle">0.03</text>
<text transform="translate(618.72 470.10) scale(1 1.07)" text-anchor="middle">0.04</text>
<text transform="translate(670.80 470.10) scale(1 1.07)" text-anchor="middle">0.05</text>
<text transform="translate(405.90 457.51) scale(1 1.07)" text-anchor="end">0</text>
<text transform="translate(405.90 413.18) scale(1 1.07)" text-anchor="end">100</text>
<text transform="translate(405.90 368.86) scale(1 1.07)" text-anchor="end">200</text>
<text transform="translate(405.90 324.53) scale(1 1.07)" text-anchor="end">300</text>
<text transform="translate(405.90 280.21) scale(1 1.07)" text-anchor="end">400</text>
</g>
<text x="540.90" y="489.10" text-anchor="middle" font-size="14.5" fill="#262626" stroke="#262626" stroke-width="0.22">Plastic strain <tspan font-family="Liberation Serif" font-style="italic" font-size="13.77" fill="#555" stroke="none">ϵ</tspan><tspan dx="-0.3" dy="7.76" font-size="11.60" stroke-width="0.1">p</tspan></text>
<text transform="translate(368.90 362.25) rotate(-90)" text-anchor="middle" font-size="14.5" fill="#262626" stroke="#262626" stroke-width="0.22">Flow stress <tspan font-family="Liberation Serif" font-style="italic" font-size="15.23" fill="#444" stroke="none">σ</tspan><tspan dy="6.96" font-size="11.60" stroke-width="0.1">y</tspan><tspan dy="-6.96">(MPa)</tspan></text>
<text x="541.2" y="520.7" text-anchor="middle" font-size="14.4" fill="#161616" stroke="#161616" stroke-width="0.22">(d) T=473.15 K (200°C)</text>
</g>
<g id="cv-e">
<path d="M52.0 661.60L52.5 661.52L53.0 661.44L53.5 661.36L54.0 661.28L54.5 661.21L55.0 661.14L55.5 661.08L56.0 661.01L56.5 660.95L57.0 660.90L57.5 660.85L58.0 660.80L58.5 660.75L59.0 660.71L59.5 660.66L60.0 660.62L60.5 660.57L61.0 660.53L61.5 660.50L62.0 660.46L62.5 660.44L63.0 660.42L63.5 660.40L64.0 660.40L64.5 660.40L65.0 660.40L65.5 660.40L66.0 660.41L66.5 660.41L67.0 660.42L67.5 660.42L68.0 660.43L68.5 660.44L69.0 660.44L69.5 660.45L70.0 660.46L70.5 660.47L71.0 660.48L71.5 660.49L72.0 660.50L74.0 660.55L76.0 660.60L78.0 660.65L80.0 660.70L82.0 660.75L84.0 660.81L86.0 660.87L88.0 660.94L90.0 661.02L92.0 661.09L94.0 661.17L96.0 661.26L98.0 661.34L100.0 661.43L102.0 661.52L104.0 661.61L106.0 661.70L108.0 661.79L110.0 661.88L112.0 661.97L114.0 662.06L116.0 662.14L118.0 662.22L120.0 662.30L122.0 662.38L124.0 662.45L126.0 662.53L128.0 662.61L130.0 662.69L132.0 662.77L134.0 662.85L136.0 662.93L138.0 663.01L140.0 663.09L142.0 663.17L144.0 663.25L146.0 663.33L148.0 663.41L150.0 663.49L152.0 663.57L154.0 663.65L156.0 663.72L158.0 663.80L160.0 663.87L162.0 663.94L164.0 664.02L166.0 664.08L168.0 664.15L170.0 664.22L172.0 664.28L174.0 664.34L176.0 664.40L178.0 664.46L180.0 664.51L182.0 664.56L184.0 664.61L186.0 664.66L188.0 664.70L190.0 664.74L192.0 664.78L194.0 664.82L196.0 664.85L198.0 664.89L200.0 664.92L202.0 664.95L204.0 664.98L206.0 665.01L208.0 665.04L210.0 665.07L212.0 665.10L214.0 665.13L216.0 665.15L218.0 665.18L220.0 665.21L222.0 665.23L224.0 665.26L226.0 665.28L228.0 665.31L230.0 665.33L232.0 665.36L234.0 665.38L236.0 665.41L238.0 665.43L240.0 665.46L242.0 665.49L244.0 665.51L246.0 665.54L248.0 665.57L250.0 665.60L252.0 665.63L254.0 665.66L256.0 665.69L258.0 665.71L260.0 665.74L262.0 665.77L264.0 665.80L266.0 665.83L268.0 665.87L270.0 665.90L272.0 665.94L274.0 665.97L276.0 666.01L278.0 666.05L280.0 666.09L282.0 666.13L284.0 666.17L286.0 666.21L288.0 666.25L290.0 666.30L292.0 666.34L294.0 666.39L296.0 666.44L298.0 666.48L300.0 666.53L302.0 666.58L304.0 666.63L306.0 666.69L308.0 666.74L310.0 666.79L312.0 666.85L313.9 666.90L313.9 675.00L312.0 674.98L310.0 674.96L308.0 674.94L306.0 674.92L304.0 674.90L302.0 674.88L300.0 674.86L298.0 674.84L296.0 674.82L294.0 674.80L292.0 674.77L290.0 674.75L288.0 674.72L286.0 674.70L284.0 674.68L282.0 674.65L280.0 674.62L278.0 674.60L276.0 674.57L274.0 674.55L272.0 674.52L270.0 674.49L268.0 674.46L266.0 674.44L264.0 674.41L262.0 674.38L260.0 674.35L258.0 674.32L256.0 674.29L254.0 674.26L252.0 674.23L250.0 674.20L248.0 674.17L246.0 674.14L244.0 674.10L242.0 674.07L240.0 674.03L238.0 674.00L236.0 673.96L234.0 673.92L232.0 673.88L230.0 673.84L228.0 673.80L226.0 673.76L224.0 673.72L222.0 673.68L220.0 673.64L218.0 673.60L216.0 673.56L214.0 673.51L212.0 673.47L210.0 673.43L208.0 673.39L206.0 673.35L204.0 673.31L202.0 673.27L200.0 673.23L198.0 673.19L196.0 673.15L194.0 673.11L192.0 673.07L190.0 673.04L188.0 673.00L186.0 672.96L184.0 672.93L182.0 672.90L180.0 672.86L178.0 672.83L176.0 672.79L174.0 672.76L172.0 672.73L170.0 672.69L168.0 672.66L166.0 672.63L164.0 672.59L162.0 672.56L160.0 672.53L158.0 672.50L156.0 672.46L154.0 672.43L152.0 672.40L150.0 672.37L148.0 672.34L146.0 672.30L144.0 672.27L142.0 672.24L140.0 672.21L138.0 672.18L136.0 672.15L134.0 672.12L132.0 672.09L130.0 672.05L128.0 672.02L126.0 671.99L124.0 671.96L122.0 671.93L120.0 671.90L118.0 671.87L116.0 671.84L114.0 671.81L112.0 671.78L110.0 671.75L108.0 671.72L106.0 671.69L104.0 671.66L102.0 671.63L100.0 671.60L98.0 671.57L96.0 671.54L94.0 671.51L92.0 671.48L90.0 671.45L88.0 671.42L86.0 671.39L84.0 671.36L82.0 671.33L80.0 671.30L78.0 671.27L76.0 671.24L74.0 671.21L72.0 671.18L71.5 671.18L71.0 671.17L70.5 671.16L70.0 671.16L69.5 671.15L69.0 671.14L68.5 671.13L68.0 671.13L67.5 671.12L67.0 671.11L66.5 671.10L66.0 671.10L65.5 671.09L65.0 671.08L64.5 671.08L64.0 671.07L63.5 671.06L63.0 671.06L62.5 671.05L62.0 671.04L61.5 671.03L61.0 671.03L60.5 671.02L60.0 671.01L59.5 671.01L59.0 671.00L58.5 670.99L58.0 670.98L57.5 670.98L57.0 670.97L56.5 670.96L56.0 670.96L55.5 670.95L55.0 670.94L54.5 670.93L54.0 670.93L53.5 670.92L53.0 670.91L52.5 670.91L52.0 670.90Z" fill="#000" stroke="none"/>
<path d="M52.0 652.90L52.5 652.92L53.0 652.94L53.5 652.96L54.0 652.98L54.5 653.00L55.0 653.03L55.5 653.05L56.0 653.07L56.5 653.09L57.0 653.11L57.5 653.13L58.0 653.15L58.5 653.17L59.0 653.19L59.5 653.21L60.0 653.24L60.5 653.26L61.0 653.28L61.5 653.30L62.0 653.32L62.5 653.34L63.0 653.36L63.5 653.38L64.0 653.40L64.5 653.43L65.0 653.45L65.5 653.47L66.0 653.49L66.5 653.51L67.0 653.53L67.5 653.55L68.0 653.57L68.5 653.59L69.0 653.62L69.5 653.64L70.0 653.66L70.5 653.68L71.0 653.70L71.5 653.72L72.0 653.74L74.0 653.83L76.0 653.91L78.0 654.00L80.0 654.08L82.0 654.17L84.0 654.25L86.0 654.34L88.0 654.42L90.0 654.51L92.0 654.59L94.0 654.68L96.0 654.77L98.0 654.85L100.0 654.94L102.0 655.02L104.0 655.11L106.0 655.19L108.0 655.28L110.0 655.37L112.0 655.45L114.0 655.54L116.0 655.63L118.0 655.71L120.0 655.80L122.0 655.89L124.0 655.97L126.0 656.06L128.0 656.15L130.0 656.24L132.0 656.32L134.0 656.41L136.0 656.50L138.0 656.59L140.0 656.67L142.0 656.76L144.0 656.85L146.0 656.94L148.0 657.03L150.0 657.12L152.0 657.21L154.0 657.29L156.0 657.38L158.0 657.47L160.0 657.56L162.0 657.65L164.0 657.74L166.0 657.83L168.0 657.91L170.0 658.00L172.0 658.09L174.0 658.18L176.0 658.27L178.0 658.36L180.0 658.45L182.0 658.53L184.0 658.62L186.0 658.71L188.0 658.80L190.0 658.89L192.0 658.97L194.0 659.06L196.0 659.14L198.0 659.22L200.0 659.30L202.0 659.37L204.0 659.45L206.0 659.53L208.0 659.60L210.0 659.68L212.0 659.76L214.0 659.83L216.0 659.91L218.0 659.99L220.0 660.07L222.0 660.15L224.0 660.23L226.0 660.31L228.0 660.39L230.0 660.48L232.0 660.57L234.0 660.66L236.0 660.76L238.0 660.85L240.0 660.95L242.0 661.06L244.0 661.16L246.0 661.27L248.0 661.39L250.0 661.51L252.0 661.63L254.0 661.76L256.0 661.90L258.0 662.05L260.0 662.20L262.0 662.36L264.0 662.54L266.0 662.72L268.0 662.91L270.0 663.11L272.0 663.31L274.0 663.53L276.0 663.76L278.0 664.00L280.0 664.27L282.0 664.60L284.0 664.95L286.0 665.32L288.0 665.67L290.0 666.00L292.0 666.30L294.0 666.60L296.0 666.89L298.0 667.16L299.0 667.30" fill="none" stroke="#000" stroke-width="2.0" stroke-linecap="butt" stroke-linejoin="round"/>
<path d="M53.5 665.60L54.0 665.58L54.5 665.56L55.0 665.55L55.5 665.53L56.0 665.51L56.5 665.49L57.0 665.48L57.5 665.46L58.0 665.44L58.5 665.42L59.0 665.41L59.5 665.39L60.0 665.37L60.5 665.35L61.0 665.34L61.5 665.32L62.0 665.30" fill="none" stroke="#777" stroke-width="0.6"/>
</g>
<g id="ax-e">
<path d="M52.599999999999994 548.3000000000001V728.4H313.6" fill="none" stroke="#262626" stroke-width="0.8"/>
<path d="M53.30 728.4v-2.6M105.30 728.4v-2.6M157.30 728.4v-2.6M209.30 728.4v-2.6M261.30 728.4v-2.6M313.30 728.4v-2.6M52.599999999999994 728.30h3.1M52.599999999999994 683.38h3.1M52.599999999999994 638.45h3.1M52.599999999999994 593.52h3.1M52.599999999999994 548.60h3.1" fill="none" stroke="#262626" stroke-width="0.75"/>
<g font-size="14.45" fill="#262626" stroke="#262626" stroke-width="0.22">
<text transform="translate(52.70 747.90) scale(1 1.07)" text-anchor="middle">0</text>
<text transform="translate(104.70 747.90) scale(1 1.07)" text-anchor="middle">0.01</text>
<text transform="translate(156.70 747.90) scale(1 1.07)" text-anchor="middle">0.02</text>
<text transform="translate(208.70 747.90) scale(1 1.07)" text-anchor="middle">0.03</text>
<text transform="translate(260.70 747.90) scale(1 1.07)" text-anchor="middle">0.04</text>
<text transform="translate(312.70 747.90) scale(1 1.07)" text-anchor="middle">0.05</text>
<text transform="translate(48.20 734.91) scale(1 1.07)" text-anchor="end">0</text>
<text transform="translate(48.20 689.98) scale(1 1.07)" text-anchor="end">100</text>
<text transform="translate(48.20 645.06) scale(1 1.07)" text-anchor="end">200</text>
<text transform="translate(48.20 600.13) scale(1 1.07)" text-anchor="end">300</text>
<text transform="translate(48.20 555.21) scale(1 1.07)" text-anchor="end">400</text>
</g>
<text x="183.00" y="766.40" text-anchor="middle" font-size="14.5" fill="#262626" stroke="#262626" stroke-width="0.22">Plastic strain <tspan font-family="Liberation Serif" font-style="italic" font-size="13.77" fill="#555" stroke="none">ϵ</tspan><tspan dx="-0.3" dy="7.76" font-size="11.60" stroke-width="0.1">p</tspan></text>
<text transform="translate(11.20 638.45) rotate(-90)" text-anchor="middle" font-size="14.5" fill="#262626" stroke="#262626" stroke-width="0.22">Flow stress <tspan font-family="Liberation Serif" font-style="italic" font-size="15.23" fill="#444" stroke="none">σ</tspan><tspan dy="6.96" font-size="11.60" stroke-width="0.1">y</tspan><tspan dy="-6.96">(MPa)</tspan></text>
<text x="183.4" y="792.5" text-anchor="middle" font-size="14.4" fill="#161616" stroke="#161616" stroke-width="0.22">(e) T=523.15 K (250°C)(testing)</text>
</g>
<g id="cv-f">
<path d="M410.0 683.00L410.5 682.93L411.0 682.86L411.5 682.79L412.0 682.72L412.5 682.66L413.0 682.59L413.5 682.54L414.0 682.49L414.5 682.45L415.0 682.42L415.5 682.41L416.0 682.40L416.5 682.40L417.0 682.40L417.5 682.40L418.0 682.40L418.5 682.40L419.0 682.40L419.5 682.40L420.0 682.40L420.5 682.40L421.0 682.40L421.5 682.40L422.0 682.40L422.5 682.40L423.0 682.40L423.5 682.40L424.0 682.40L424.5 682.40L425.0 682.40L425.5 682.40L426.0 682.40L426.5 682.40L427.0 682.40L427.5 682.41L428.0 682.41L428.5 682.41L429.0 682.41L429.5 682.42L430.0 682.42L432.0 682.44L434.0 682.47L436.0 682.50L438.0 682.54L440.0 682.59L442.0 682.63L444.0 682.69L446.0 682.74L448.0 682.80L450.0 682.86L452.0 682.92L454.0 682.99L456.0 683.05L458.0 683.12L460.0 683.19L462.0 683.26L464.0 683.33L466.0 683.39L468.0 683.46L470.0 683.52L472.0 683.58L474.0 683.64L476.0 683.70L478.0 683.75L480.0 683.80L482.0 683.85L484.0 683.89L486.0 683.94L488.0 683.98L490.0 684.03L492.0 684.07L494.0 684.12L496.0 684.16L498.0 684.20L500.0 684.25L502.0 684.29L504.0 684.33L506.0 684.38L508.0 684.42L510.0 684.46L512.0 684.50L514.0 684.55L516.0 684.59L518.0 684.63L520.0 684.67L522.0 684.71L524.0 684.75L526.0 684.80L528.0 684.84L530.0 684.88L532.0 684.92L534.0 684.96L536.0 685.01L538.0 685.05L540.0 685.09L542.0 685.14L544.0 685.18L546.0 685.22L548.0 685.27L550.0 685.31L552.0 685.35L554.0 685.40L556.0 685.44L558.0 685.48L560.0 685.53L562.0 685.57L564.0 685.62L566.0 685.66L568.0 685.70L570.0 685.75L572.0 685.79L574.0 685.84L576.0 685.88L578.0 685.92L580.0 685.97L582.0 686.01L584.0 686.05L586.0 686.10L588.0 686.14L590.0 686.18L592.0 686.23L594.0 686.27L596.0 686.31L598.0 686.36L600.0 686.40L602.0 686.44L604.0 686.49L606.0 686.53L608.0 686.57L610.0 686.61L612.0 686.66L614.0 686.70L616.0 686.74L618.0 686.78L620.0 686.82L622.0 686.87L624.0 686.91L626.0 686.95L628.0 686.99L630.0 687.04L632.0 687.08L634.0 687.12L636.0 687.16L638.0 687.20L640.0 687.24L642.0 687.29L644.0 687.33L646.0 687.37L648.0 687.41L650.0 687.45L652.0 687.49L654.0 687.53L656.0 687.58L658.0 687.62L660.0 687.66L662.0 687.70L664.0 687.74L666.0 687.78L668.0 687.82L670.0 687.86L671.8 687.90L671.8 699.10L670.0 699.08L668.0 699.06L666.0 699.03L664.0 699.01L662.0 698.99L660.0 698.97L658.0 698.94L656.0 698.92L654.0 698.90L652.0 698.88L650.0 698.86L648.0 698.83L646.0 698.81L644.0 698.79L642.0 698.77L640.0 698.74L638.0 698.72L636.0 698.70L634.0 698.68L632.0 698.65L630.0 698.63L628.0 698.61L626.0 698.59L624.0 698.57L622.0 698.54L620.0 698.52L618.0 698.50L616.0 698.48L614.0 698.45L612.0 698.43L610.0 698.41L608.0 698.39L606.0 698.37L604.0 698.34L602.0 698.32L600.0 698.30L598.0 698.28L596.0 698.25L594.0 698.23L592.0 698.20L590.0 698.18L588.0 698.15L586.0 698.12L584.0 698.10L582.0 698.07L580.0 698.04L578.0 698.02L576.0 697.99L574.0 697.96L572.0 697.94L570.0 697.91L568.0 697.89L566.0 697.86L564.0 697.84L562.0 697.82L560.0 697.80L558.0 697.78L556.0 697.76L554.0 697.75L552.0 697.73L550.0 697.72L548.0 697.71L546.0 697.70L544.0 697.70L542.0 697.69L540.0 697.69L538.0 697.68L536.0 697.68L534.0 697.67L532.0 697.67L530.0 697.66L528.0 697.66L526.0 697.65L524.0 697.65L522.0 697.64L520.0 697.64L518.0 697.64L516.0 697.63L514.0 697.63L512.0 697.63L510.0 697.62L508.0 697.62L506.0 697.62L504.0 697.62L502.0 697.61L500.0 697.61L498.0 697.61L496.0 697.61L494.0 697.61L492.0 697.60L490.0 697.60L488.0 697.60L486.0 697.60L484.0 697.60L482.0 697.60L480.0 697.60L478.0 697.60L476.0 697.60L474.0 697.60L472.0 697.60L470.0 697.60L468.0 697.60L466.0 697.60L464.0 697.60L462.0 697.60L460.0 697.60L458.0 697.60L456.0 697.60L454.0 697.60L452.0 697.60L450.0 697.60L448.0 697.60L446.0 697.60L444.0 697.60L442.0 697.60L440.0 697.60L438.0 697.60L436.0 697.60L434.0 697.60L432.0 697.60L430.0 697.60L429.5 697.60L429.0 697.60L428.5 697.60L428.0 697.60L427.5 697.60L427.0 697.60L426.5 697.60L426.0 697.60L425.5 697.60L425.0 697.60L424.5 697.60L424.0 697.60L423.5 697.60L423.0 697.60L422.5 697.60L422.0 697.60L421.5 697.60L421.0 697.60L420.5 697.60L420.0 697.60L419.5 697.60L419.0 697.60L418.5 697.60L418.0 697.60L417.5 697.60L417.0 697.60L416.5 697.60L416.0 697.60L415.5 697.60L415.0 697.60L414.5 697.60L414.0 697.60L413.5 697.60L413.0 697.60L412.5 697.60L412.0 697.60L411.5 697.60L411.0 697.60L410.5 697.60L410.0 697.60Z" fill="#000" stroke="none"/>
<path d="M410.0 699.40L410.5 699.41L411.0 699.41L411.5 699.42L412.0 699.43L412.5 699.43L413.0 699.44L413.5 699.44L414.0 699.45L414.5 699.46L415.0 699.46L415.5 699.47L416.0 699.48L416.5 699.48L417.0 699.49L417.5 699.50L418.0 699.50L418.5 699.51L419.0 699.52L419.5 699.52L420.0 699.53L420.5 699.53L421.0 699.54L421.5 699.55L422.0 699.55L422.5 699.56L423.0 699.57L423.5 699.57L424.0 699.58L424.5 699.59L425.0 699.59L425.5 699.60L426.0 699.61L426.5 699.61L427.0 699.62L427.5 699.62L428.0 699.63L428.5 699.64L429.0 699.64L429.5 699.65L430.0 699.66L432.0 699.68L434.0 699.71L436.0 699.73L438.0 699.76L440.0 699.79L442.0 699.81L444.0 699.84L446.0 699.86L448.0 699.89L450.0 699.91L452.0 699.94L454.0 699.97L456.0 699.99L458.0 700.02L460.0 700.04L462.0 700.07L464.0 700.09L466.0 700.12L468.0 700.15L470.0 700.17L472.0 700.20L474.0 700.22L476.0 700.25L478.0 700.27L480.0 700.30" fill="none" stroke="#000" stroke-width="2.3" stroke-dasharray="1.3 0.75" stroke-linecap="butt" stroke-linejoin="round"/>
<path d="M480.0 700.30L480.5 700.31L481.0 700.31L481.5 700.32L482.0 700.32L482.5 700.33L483.0 700.33L483.5 700.34L484.0 700.34L484.5 700.35L485.0 700.36L485.5 700.36L486.0 700.37L486.5 700.37L487.0 700.38L487.5 700.38L488.0 700.39L488.5 700.40L489.0 700.40L489.5 700.41L490.0 700.41L490.5 700.42L491.0 700.42L491.5 700.43L492.0 700.44L492.5 700.44L493.0 700.45L493.5 700.45L494.0 700.46L494.5 700.47L495.0 700.47L495.5 700.48L496.0 700.48L496.5 700.49L497.0 700.49L497.5 700.50L498.0 700.51L498.5 700.51L499.0 700.52L499.5 700.52L500.0 700.53L502.0 700.55L504.0 700.58L506.0 700.60L508.0 700.63L510.0 700.65L512.0 700.68L514.0 700.70L516.0 700.72L518.0 700.75L520.0 700.78L522.0 700.80L524.0 700.83L526.0 700.85L528.0 700.88L530.0 700.90L532.0 700.93L534.0 700.95L536.0 700.98L538.0 701.01L540.0 701.03L542.0 701.06L544.0 701.09L546.0 701.11L548.0 701.14L550.0 701.17L552.0 701.19L554.0 701.22L556.0 701.25L558.0 701.28L560.0 701.31L562.0 701.33L564.0 701.36L566.0 701.39L568.0 701.42L570.0 701.45L572.0 701.48L574.0 701.51L576.0 701.54L578.0 701.57L580.0 701.60L582.0 701.63L584.0 701.66L586.0 701.69L588.0 701.72L590.0 701.75L592.0 701.78L594.0 701.81L596.0 701.84L598.0 701.87L600.0 701.90" fill="none" stroke="#000" stroke-width="2.1" stroke-dasharray="1.5 0.85" stroke-linecap="butt" stroke-linejoin="round"/>
<path d="M600.0 701.90L600.5 701.91L601.0 701.92L601.5 701.92L602.0 701.93L602.5 701.94L603.0 701.95L603.5 701.95L604.0 701.96L604.5 701.97L605.0 701.98L605.5 701.98L606.0 701.99L606.5 702.00L607.0 702.01L607.5 702.01L608.0 702.02L608.5 702.03L609.0 702.04L609.5 702.05L610.0 702.05L610.5 702.06L611.0 702.07L611.5 702.08L612.0 702.08L612.5 702.09L613.0 702.10L613.5 702.11L614.0 702.11L614.5 702.12L615.0 702.13L615.5 702.14L616.0 702.15L616.5 702.15L617.0 702.16L617.5 702.17L618.0 702.18L618.5 702.18L619.0 702.19L619.5 702.20L620.0 702.21L622.0 702.24L624.0 702.27L626.0 702.30L628.0 702.33L630.0 702.36L632.0 702.39L634.0 702.42L636.0 702.45L638.0 702.48L640.0 702.51L642.0 702.54L644.0 702.57L646.0 702.60L648.0 702.64L650.0 702.67L652.0 702.70L654.0 702.73L656.0 702.76L658.0 702.79L660.0 702.82L662.0 702.85L664.0 702.88L666.0 702.91L668.0 702.94L670.0 702.97L671.8 703.00" fill="none" stroke="#000" stroke-width="2.1" stroke-dasharray="1.8 1.05" stroke-linecap="butt" stroke-linejoin="round"/>
<path d="M411.2 685.30L411.7 685.24L412.2 685.17L412.7 685.10L413.2 685.04L413.7 684.97L414.2 684.91L414.7 684.86L415.2 684.81L415.7 684.76L416.2 684.73L416.7 684.71L417.2 684.70L417.7 684.70L418.2 684.70L418.7 684.70L419.2 684.70L419.7 684.70L420.2 684.70L420.7 684.70L421.2 684.70L421.7 684.70L422.2 684.70L422.7 684.70L423.2 684.70L423.7 684.70L424.2 684.71L424.7 684.71L425.2 684.71L425.7 684.71L426.2 684.71L426.7 684.71L427.2 684.72L427.7 684.72L428.2 684.72L428.7 684.72L429.2 684.73L429.7 684.73L430.2 684.73L430.7 684.74L431.2 684.74L433.2 684.76L435.2 684.79L435.7 684.80" fill="none" stroke="#fff" stroke-width="1.0"/>
<path d="M435.7 684.80L436.2 684.81L436.7 684.83L437.2 684.84L437.7 684.85L438.2 684.86L438.7 684.88L439.2 684.89L439.7 684.90L440.2 684.91L440.7 684.93L441.2 684.94L441.7 684.95L442.2 684.97L442.7 684.98L443.2 684.99L443.7 685.00L444.2 685.02L444.7 685.03L445.2 685.04L445.7 685.05L446.2 685.07L446.7 685.08L447.2 685.09L447.7 685.11L448.2 685.12L448.7 685.13L449.2 685.14L449.7 685.16L450.2 685.17L450.7 685.18L451.2 685.20L451.7 685.21L452.2 685.22L452.7 685.23L453.2 685.25L453.7 685.26L454.2 685.27L454.7 685.28L455.2 685.30L455.7 685.31L457.7 685.36L459.7 685.41L461.7 685.46L463.7 685.51L465.7 685.56L467.7 685.62L469.7 685.67L471.7 685.72L473.7 685.77L475.7 685.82L477.7 685.87L479.7 685.92L481.7 685.97L483.7 686.02L485.7 686.07L486.7 686.10" fill="none" stroke="#fff" stroke-width="0.7"/>
<path d="M486.7 686.10L487.2 686.11L487.7 686.12L488.2 686.13L488.7 686.14L489.2 686.15L489.7 686.16L490.2 686.17L490.7 686.18L491.2 686.19L491.7 686.20L492.2 686.21L492.7 686.22L493.2 686.23L493.7 686.24L494.2 686.25L494.7 686.26L495.2 686.27L495.7 686.29L496.2 686.30L496.7 686.31L497.2 686.32L497.7 686.33L498.2 686.34L498.7 686.35L499.2 686.36L499.7 686.37L500.2 686.38L500.7 686.39L501.2 686.40L501.7 686.41L502.2 686.42L502.7 686.43L503.2 686.44L503.7 686.45L504.2 686.46L504.7 686.47L505.2 686.48L505.7 686.49L506.2 686.50L506.7 686.51L508.7 686.55L510.7 686.59L512.7 686.64L514.7 686.68L516.7 686.72L518.7 686.76L520.7 686.80L522.7 686.84L524.7 686.88L526.7 686.92L528.7 686.96L530.7 687.01L532.7 687.05L534.7 687.09L536.7 687.13L538.7 687.17L540.7 687.21L542.7 687.25L544.7 687.29L545.0 687.30" fill="none" stroke="#fff" stroke-width="0.55" opacity="0.75"/>
<path d="M545.0 687.30L545.5 687.31L546.0 687.32L546.5 687.33L547.0 687.34L547.5 687.35L548.0 687.35L548.5 687.36L549.0 687.37L549.5 687.38L550.0 687.39L550.5 687.40L551.0 687.41L551.5 687.42L552.0 687.43L552.5 687.44L553.0 687.45L553.5 687.46L554.0 687.47L554.5 687.48L555.0 687.49L555.5 687.49L556.0 687.50L556.5 687.51L557.0 687.52L557.5 687.53L558.0 687.54L558.5 687.55L559.0 687.56L559.5 687.57L560.0 687.58L560.5 687.59L561.0 687.60L561.5 687.61L562.0 687.62L562.5 687.63L563.0 687.64L563.5 687.65L564.0 687.66L564.5 687.67L565.0 687.68L567.0 687.72L569.0 687.76L571.0 687.80L573.0 687.84L575.0 687.88L577.0 687.92L579.0 687.96L581.0 688.00L583.0 688.04L585.0 688.08L587.0 688.12L589.0 688.17L591.0 688.21L593.0 688.25L595.0 688.29L597.0 688.34L599.0 688.38L601.0 688.42L603.0 688.47L605.0 688.51L607.0 688.55L609.0 688.60L611.0 688.64L613.0 688.69L615.0 688.73L617.0 688.78L619.0 688.83L621.0 688.87L623.0 688.92L625.0 688.96L627.0 689.01L629.0 689.06L631.0 689.11L633.0 689.16L635.0 689.20L637.0 689.25L639.0 689.30L641.0 689.35L643.0 689.40L645.0 689.45L647.0 689.50L649.0 689.55L651.0 689.60L653.0 689.65L655.0 689.70" fill="none" stroke="#fff" stroke-width="0.5" opacity="0.5"/>
<path d="M411.2 695.60L411.7 695.60L412.2 695.59L412.7 695.59L413.2 695.59L413.7 695.58L414.2 695.58L414.7 695.58L415.2 695.57L415.7 695.57L416.2 695.57L416.7 695.56L417.2 695.56L417.7 695.55L418.2 695.55L418.7 695.55L419.2 695.54L419.7 695.54L420.2 695.54L420.7 695.53L421.2 695.53L421.7 695.53L422.2 695.52L422.7 695.52L423.2 695.52L423.7 695.51L424.2 695.51L424.7 695.51L425.2 695.50L425.7 695.50L426.2 695.50L426.7 695.49L427.2 695.49L427.7 695.49L428.2 695.48L428.7 695.48L429.2 695.48L429.7 695.47L430.2 695.47L430.7 695.46L431.2 695.46L433.2 695.45L435.2 695.43L437.2 695.42L439.2 695.41L440.0 695.40" fill="none" stroke="#fff" stroke-width="0.9"/>
<path d="M440.0 695.40L440.5 695.40L441.0 695.40L441.5 695.40L442.0 695.40L442.5 695.41L443.0 695.41L443.5 695.41L444.0 695.41L444.5 695.41L445.0 695.41L445.5 695.41L446.0 695.41L446.5 695.41L447.0 695.41L447.5 695.42L448.0 695.42L448.5 695.42L449.0 695.42L449.5 695.42L450.0 695.42L450.5 695.42L451.0 695.42L451.5 695.42L452.0 695.43L452.5 695.43L453.0 695.43L453.5 695.43L454.0 695.43L454.5 695.43L455.0 695.43L455.5 695.43L456.0 695.43L456.5 695.44L457.0 695.44L457.5 695.44L458.0 695.44L458.5 695.44L459.0 695.44L459.5 695.44L460.0 695.44L462.0 695.45L464.0 695.45L466.0 695.46L468.0 695.46L470.0 695.46L472.0 695.47L474.0 695.47L476.0 695.48L478.0 695.48L480.0 695.49L482.0 695.49L484.0 695.49L486.0 695.50L487.0 695.50" fill="none" stroke="#fff" stroke-width="0.65"/>
<path d="M487.0 695.50L487.5 695.50L488.0 695.51L488.5 695.51L489.0 695.51L489.5 695.51L490.0 695.52L490.5 695.52L491.0 695.52L491.5 695.52L492.0 695.53L492.5 695.53L493.0 695.53L493.5 695.53L494.0 695.54L494.5 695.54L495.0 695.54L495.5 695.54L496.0 695.55L496.5 695.55L497.0 695.55L497.5 695.55L498.0 695.56L498.5 695.56L499.0 695.56L499.5 695.56L500.0 695.57L500.5 695.57L501.0 695.57L501.5 695.58L502.0 695.58L502.5 695.58L503.0 695.58L503.5 695.59L504.0 695.59L504.5 695.59L505.0 695.59L505.5 695.60L506.0 695.60L506.5 695.60L507.0 695.60L509.0 695.61L511.0 695.62L513.0 695.63L515.0 695.64L517.0 695.66L519.0 695.67L521.0 695.68L523.0 695.69L525.0 695.70L527.0 695.71L529.0 695.72L531.0 695.73L533.0 695.74L535.0 695.75L537.0 695.76L539.0 695.77L541.0 695.78L543.0 695.79L545.0 695.80" fill="none" stroke="#fff" stroke-width="0.5" opacity="0.6"/>
<path d="M545.0 695.80L545.5 695.80L546.0 695.81L546.5 695.81L547.0 695.82L547.5 695.82L548.0 695.82L548.5 695.83L549.0 695.83L549.5 695.83L550.0 695.84L550.5 695.84L551.0 695.85L551.5 695.85L552.0 695.85L552.5 695.86L553.0 695.86L553.5 695.87L554.0 695.87L554.5 695.87L555.0 695.88L555.5 695.88L556.0 695.88L556.5 695.89L557.0 695.89L557.5 695.90L558.0 695.90L558.5 695.90L559.0 695.91L559.5 695.91L560.0 695.92L560.5 695.92L561.0 695.92L561.5 695.93L562.0 695.93L562.5 695.93L563.0 695.94L563.5 695.94L564.0 695.95L564.5 695.95L565.0 695.95L567.0 695.97L569.0 695.98L571.0 696.00L573.0 696.02L575.0 696.03L577.0 696.05L579.0 696.06L581.0 696.08L583.0 696.09L585.0 696.11L587.0 696.12L589.0 696.14L591.0 696.15L593.0 696.17L595.0 696.18L597.0 696.20L599.0 696.22L601.0 696.23L603.0 696.25L605.0 696.26L607.0 696.28L609.0 696.29L610.0 696.30" fill="none" stroke="#fff" stroke-width="0.45" opacity="0.35"/>
</g>
<g id="ax-f">
<path d="M410.3 548.3000000000001V728.4H671.6999999999999" fill="none" stroke="#262626" stroke-width="0.8"/>
<path d="M411.00 728.4v-2.6M463.08 728.4v-2.6M515.16 728.4v-2.6M567.24 728.4v-2.6M619.32 728.4v-2.6M671.40 728.4v-2.6M410.3 728.30h3.1M410.3 683.38h3.1M410.3 638.45h3.1M410.3 593.52h3.1M410.3 548.60h3.1" fill="none" stroke="#262626" stroke-width="0.75"/>
<g font-size="14.45" fill="#262626" stroke="#262626" stroke-width="0.22">
<text transform="translate(410.40 747.90) scale(1 1.07)" text-anchor="middle">0</text>
<text transform="translate(462.48 747.90) scale(1 1.07)" text-anchor="middle">0.01</text>
<text transform="translate(514.56 747.90) scale(1 1.07)" text-anchor="middle">0.02</text>
<text transform="translate(566.64 747.90) scale(1 1.07)" text-anchor="middle">0.03</text>
<text transform="translate(618.72 747.90) scale(1 1.07)" text-anchor="middle">0.04</text>
<text transform="translate(670.80 747.90) scale(1 1.07)" text-anchor="middle">0.05</text>
<text transform="translate(405.90 734.91) scale(1 1.07)" text-anchor="end">0</text>
<text transform="translate(405.90 689.98) scale(1 1.07)" text-anchor="end">100</text>
<text transform="translate(405.90 645.06) scale(1 1.07)" text-anchor="end">200</text>
<text transform="translate(405.90 600.13) scale(1 1.07)" text-anchor="end">300</text>
<text transform="translate(405.90 555.21) scale(1 1.07)" text-anchor="end">400</text>
</g>
<text x="540.90" y="766.70" text-anchor="middle" font-size="14.5" fill="#262626" stroke="#262626" stroke-width="0.22">Plastic strain <tspan font-family="Liberation Serif" font-style="italic" font-size="13.77" fill="#555" stroke="none">ϵ</tspan><tspan dx="-0.3" dy="7.76" font-size="11.60" stroke-width="0.1">p</tspan></text>
<text transform="translate(368.90 638.45) rotate(-90)" text-anchor="middle" font-size="14.5" fill="#262626" stroke="#262626" stroke-width="0.22">Flow stress <tspan font-family="Liberation Serif" font-style="italic" font-size="15.23" fill="#444" stroke="none">σ</tspan><tspan dy="6.96" font-size="11.60" stroke-width="0.1">y</tspan><tspan dy="-6.96">(MPa)</tspan></text>
<text x="541" y="792.8" text-anchor="middle" font-size="14.4" fill="#161616" stroke="#161616" stroke-width="0.22">(f) T=573.15 K (300°C)</text>
</g>
</g>
</svg>
</body></html>
